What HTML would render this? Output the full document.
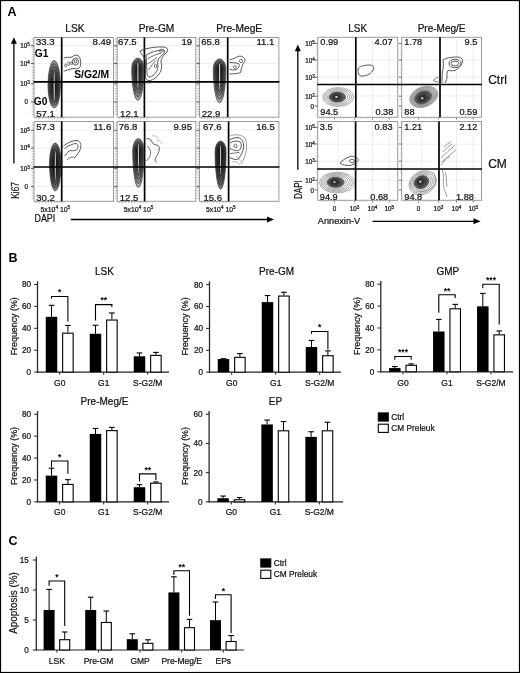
<!DOCTYPE html>
<html><head><meta charset="utf-8"><title>Figure</title>
<style>
html,body{margin:0;padding:0;background:#fff;}
body{width:520px;height:673px;overflow:hidden;}
svg{display:block;font-family:"Liberation Sans", Arial, Helvetica, sans-serif;}
text{stroke:#111;stroke-width:0.22px;}
text[font-weight=bold]{stroke:none;}
</style></head><body>
<svg width="520" height="673" viewBox="0 0 520 673">
<rect x="0" y="0" width="520" height="673" fill="#fff"/>
<text x="7.60" y="15.60" font-size="12.5" text-anchor="start" font-weight="bold">A</text>
<text x="8.40" y="262.00" font-size="12.5" text-anchor="start" font-weight="bold">B</text>
<text x="8.40" y="545.20" font-size="12.5" text-anchor="start" font-weight="bold">C</text>
<text x="74.95" y="31.60" font-size="10.2" text-anchor="middle" fill="#111">LSK</text>
<text x="156.50" y="31.60" font-size="10.2" text-anchor="middle" fill="#111">Pre-GM</text>
<text x="239.20" y="31.60" font-size="10.2" text-anchor="middle" fill="#111">Pre-MegE</text>
<rect x="34.00" y="37.50" width="79.50" height="79.70" fill="#fff" stroke="#9a9a9a" stroke-width="1"/>
<rect x="117.20" y="37.50" width="78.60" height="79.70" fill="#fff" stroke="#9a9a9a" stroke-width="1"/>
<rect x="199.50" y="37.50" width="79.40" height="79.70" fill="#fff" stroke="#9a9a9a" stroke-width="1"/>
<rect x="34.00" y="121.50" width="79.50" height="79.80" fill="#fff" stroke="#9a9a9a" stroke-width="1"/>
<rect x="117.20" y="121.50" width="78.60" height="79.80" fill="#fff" stroke="#9a9a9a" stroke-width="1"/>
<rect x="199.50" y="121.50" width="79.40" height="79.80" fill="#fff" stroke="#9a9a9a" stroke-width="1"/>
<line x1="34.50" y1="45.50" x2="113.00" y2="45.50" stroke="#e3e3e3" stroke-width="0.6"/>
<line x1="34.50" y1="63.50" x2="113.00" y2="63.50" stroke="#e3e3e3" stroke-width="0.6"/>
<line x1="34.50" y1="101.50" x2="113.00" y2="101.50" stroke="#e3e3e3" stroke-width="0.6"/>
<line x1="117.70" y1="45.50" x2="195.30" y2="45.50" stroke="#e3e3e3" stroke-width="0.6"/>
<line x1="117.70" y1="63.50" x2="195.30" y2="63.50" stroke="#e3e3e3" stroke-width="0.6"/>
<line x1="117.70" y1="101.50" x2="195.30" y2="101.50" stroke="#e3e3e3" stroke-width="0.6"/>
<line x1="200.00" y1="45.50" x2="278.40" y2="45.50" stroke="#e3e3e3" stroke-width="0.6"/>
<line x1="200.00" y1="63.50" x2="278.40" y2="63.50" stroke="#e3e3e3" stroke-width="0.6"/>
<line x1="200.00" y1="101.50" x2="278.40" y2="101.50" stroke="#e3e3e3" stroke-width="0.6"/>
<line x1="34.50" y1="130.00" x2="113.00" y2="130.00" stroke="#e3e3e3" stroke-width="0.6"/>
<line x1="34.50" y1="148.00" x2="113.00" y2="148.00" stroke="#e3e3e3" stroke-width="0.6"/>
<line x1="34.50" y1="186.50" x2="113.00" y2="186.50" stroke="#e3e3e3" stroke-width="0.6"/>
<line x1="117.70" y1="130.00" x2="195.30" y2="130.00" stroke="#e3e3e3" stroke-width="0.6"/>
<line x1="117.70" y1="148.00" x2="195.30" y2="148.00" stroke="#e3e3e3" stroke-width="0.6"/>
<line x1="117.70" y1="186.50" x2="195.30" y2="186.50" stroke="#e3e3e3" stroke-width="0.6"/>
<line x1="200.00" y1="130.00" x2="278.40" y2="130.00" stroke="#e3e3e3" stroke-width="0.6"/>
<line x1="200.00" y1="148.00" x2="278.40" y2="148.00" stroke="#e3e3e3" stroke-width="0.6"/>
<line x1="200.00" y1="186.50" x2="278.40" y2="186.50" stroke="#e3e3e3" stroke-width="0.6"/>
<line x1="31.70" y1="39.00" x2="33.70" y2="39.00" stroke="#8c8c8c" stroke-width="0.6"/>
<line x1="31.70" y1="41.60" x2="33.70" y2="41.60" stroke="#8c8c8c" stroke-width="0.6"/>
<line x1="31.70" y1="44.20" x2="33.70" y2="44.20" stroke="#8c8c8c" stroke-width="0.6"/>
<line x1="31.70" y1="46.80" x2="33.70" y2="46.80" stroke="#8c8c8c" stroke-width="0.6"/>
<line x1="31.70" y1="49.40" x2="33.70" y2="49.40" stroke="#8c8c8c" stroke-width="0.6"/>
<line x1="31.70" y1="52.00" x2="33.70" y2="52.00" stroke="#8c8c8c" stroke-width="0.6"/>
<line x1="31.70" y1="54.60" x2="33.70" y2="54.60" stroke="#8c8c8c" stroke-width="0.6"/>
<line x1="31.70" y1="57.20" x2="33.70" y2="57.20" stroke="#8c8c8c" stroke-width="0.6"/>
<line x1="31.70" y1="59.80" x2="33.70" y2="59.80" stroke="#8c8c8c" stroke-width="0.6"/>
<line x1="31.70" y1="62.40" x2="33.70" y2="62.40" stroke="#8c8c8c" stroke-width="0.6"/>
<line x1="31.70" y1="65.00" x2="33.70" y2="65.00" stroke="#8c8c8c" stroke-width="0.6"/>
<line x1="31.70" y1="67.60" x2="33.70" y2="67.60" stroke="#8c8c8c" stroke-width="0.6"/>
<line x1="31.70" y1="70.20" x2="33.70" y2="70.20" stroke="#8c8c8c" stroke-width="0.6"/>
<line x1="31.70" y1="72.80" x2="33.70" y2="72.80" stroke="#8c8c8c" stroke-width="0.6"/>
<line x1="31.70" y1="75.40" x2="33.70" y2="75.40" stroke="#8c8c8c" stroke-width="0.6"/>
<line x1="31.70" y1="78.00" x2="33.70" y2="78.00" stroke="#8c8c8c" stroke-width="0.6"/>
<line x1="31.70" y1="80.60" x2="33.70" y2="80.60" stroke="#8c8c8c" stroke-width="0.6"/>
<line x1="31.70" y1="83.20" x2="33.70" y2="83.20" stroke="#8c8c8c" stroke-width="0.6"/>
<line x1="31.70" y1="85.80" x2="33.70" y2="85.80" stroke="#8c8c8c" stroke-width="0.6"/>
<line x1="31.70" y1="88.40" x2="33.70" y2="88.40" stroke="#8c8c8c" stroke-width="0.6"/>
<line x1="31.70" y1="91.00" x2="33.70" y2="91.00" stroke="#8c8c8c" stroke-width="0.6"/>
<line x1="31.70" y1="93.60" x2="33.70" y2="93.60" stroke="#8c8c8c" stroke-width="0.6"/>
<line x1="31.70" y1="96.20" x2="33.70" y2="96.20" stroke="#8c8c8c" stroke-width="0.6"/>
<line x1="31.70" y1="98.80" x2="33.70" y2="98.80" stroke="#8c8c8c" stroke-width="0.6"/>
<line x1="31.70" y1="101.40" x2="33.70" y2="101.40" stroke="#8c8c8c" stroke-width="0.6"/>
<line x1="31.70" y1="104.00" x2="33.70" y2="104.00" stroke="#8c8c8c" stroke-width="0.6"/>
<line x1="31.70" y1="106.60" x2="33.70" y2="106.60" stroke="#8c8c8c" stroke-width="0.6"/>
<line x1="31.70" y1="109.20" x2="33.70" y2="109.20" stroke="#8c8c8c" stroke-width="0.6"/>
<line x1="31.70" y1="111.80" x2="33.70" y2="111.80" stroke="#8c8c8c" stroke-width="0.6"/>
<line x1="31.70" y1="114.40" x2="33.70" y2="114.40" stroke="#8c8c8c" stroke-width="0.6"/>
<line x1="30.90" y1="45.80" x2="34.00" y2="45.80" stroke="#555" stroke-width="0.9"/>
<line x1="30.90" y1="63.50" x2="34.00" y2="63.50" stroke="#555" stroke-width="0.9"/>
<line x1="30.90" y1="83.80" x2="34.00" y2="83.80" stroke="#555" stroke-width="0.9"/>
<line x1="30.90" y1="102.00" x2="34.00" y2="102.00" stroke="#555" stroke-width="0.9"/>
<line x1="36.00" y1="117.50" x2="36.00" y2="119.10" stroke="#888" stroke-width="0.6"/>
<line x1="39.10" y1="117.50" x2="39.10" y2="119.10" stroke="#888" stroke-width="0.6"/>
<line x1="42.20" y1="117.50" x2="42.20" y2="119.10" stroke="#888" stroke-width="0.6"/>
<line x1="45.30" y1="117.50" x2="45.30" y2="119.10" stroke="#888" stroke-width="0.6"/>
<line x1="48.40" y1="117.50" x2="48.40" y2="119.10" stroke="#888" stroke-width="0.6"/>
<line x1="51.50" y1="117.50" x2="51.50" y2="119.10" stroke="#888" stroke-width="0.6"/>
<line x1="54.60" y1="117.50" x2="54.60" y2="119.10" stroke="#888" stroke-width="0.6"/>
<line x1="57.70" y1="117.50" x2="57.70" y2="119.10" stroke="#888" stroke-width="0.6"/>
<line x1="60.80" y1="117.50" x2="60.80" y2="119.10" stroke="#888" stroke-width="0.6"/>
<line x1="63.90" y1="117.50" x2="63.90" y2="119.10" stroke="#888" stroke-width="0.6"/>
<line x1="114.90" y1="39.00" x2="116.90" y2="39.00" stroke="#8c8c8c" stroke-width="0.6"/>
<line x1="114.90" y1="41.60" x2="116.90" y2="41.60" stroke="#8c8c8c" stroke-width="0.6"/>
<line x1="114.90" y1="44.20" x2="116.90" y2="44.20" stroke="#8c8c8c" stroke-width="0.6"/>
<line x1="114.90" y1="46.80" x2="116.90" y2="46.80" stroke="#8c8c8c" stroke-width="0.6"/>
<line x1="114.90" y1="49.40" x2="116.90" y2="49.40" stroke="#8c8c8c" stroke-width="0.6"/>
<line x1="114.90" y1="52.00" x2="116.90" y2="52.00" stroke="#8c8c8c" stroke-width="0.6"/>
<line x1="114.90" y1="54.60" x2="116.90" y2="54.60" stroke="#8c8c8c" stroke-width="0.6"/>
<line x1="114.90" y1="57.20" x2="116.90" y2="57.20" stroke="#8c8c8c" stroke-width="0.6"/>
<line x1="114.90" y1="59.80" x2="116.90" y2="59.80" stroke="#8c8c8c" stroke-width="0.6"/>
<line x1="114.90" y1="62.40" x2="116.90" y2="62.40" stroke="#8c8c8c" stroke-width="0.6"/>
<line x1="114.90" y1="65.00" x2="116.90" y2="65.00" stroke="#8c8c8c" stroke-width="0.6"/>
<line x1="114.90" y1="67.60" x2="116.90" y2="67.60" stroke="#8c8c8c" stroke-width="0.6"/>
<line x1="114.90" y1="70.20" x2="116.90" y2="70.20" stroke="#8c8c8c" stroke-width="0.6"/>
<line x1="114.90" y1="72.80" x2="116.90" y2="72.80" stroke="#8c8c8c" stroke-width="0.6"/>
<line x1="114.90" y1="75.40" x2="116.90" y2="75.40" stroke="#8c8c8c" stroke-width="0.6"/>
<line x1="114.90" y1="78.00" x2="116.90" y2="78.00" stroke="#8c8c8c" stroke-width="0.6"/>
<line x1="114.90" y1="80.60" x2="116.90" y2="80.60" stroke="#8c8c8c" stroke-width="0.6"/>
<line x1="114.90" y1="83.20" x2="116.90" y2="83.20" stroke="#8c8c8c" stroke-width="0.6"/>
<line x1="114.90" y1="85.80" x2="116.90" y2="85.80" stroke="#8c8c8c" stroke-width="0.6"/>
<line x1="114.90" y1="88.40" x2="116.90" y2="88.40" stroke="#8c8c8c" stroke-width="0.6"/>
<line x1="114.90" y1="91.00" x2="116.90" y2="91.00" stroke="#8c8c8c" stroke-width="0.6"/>
<line x1="114.90" y1="93.60" x2="116.90" y2="93.60" stroke="#8c8c8c" stroke-width="0.6"/>
<line x1="114.90" y1="96.20" x2="116.90" y2="96.20" stroke="#8c8c8c" stroke-width="0.6"/>
<line x1="114.90" y1="98.80" x2="116.90" y2="98.80" stroke="#8c8c8c" stroke-width="0.6"/>
<line x1="114.90" y1="101.40" x2="116.90" y2="101.40" stroke="#8c8c8c" stroke-width="0.6"/>
<line x1="114.90" y1="104.00" x2="116.90" y2="104.00" stroke="#8c8c8c" stroke-width="0.6"/>
<line x1="114.90" y1="106.60" x2="116.90" y2="106.60" stroke="#8c8c8c" stroke-width="0.6"/>
<line x1="114.90" y1="109.20" x2="116.90" y2="109.20" stroke="#8c8c8c" stroke-width="0.6"/>
<line x1="114.90" y1="111.80" x2="116.90" y2="111.80" stroke="#8c8c8c" stroke-width="0.6"/>
<line x1="114.90" y1="114.40" x2="116.90" y2="114.40" stroke="#8c8c8c" stroke-width="0.6"/>
<line x1="114.10" y1="45.80" x2="117.20" y2="45.80" stroke="#555" stroke-width="0.9"/>
<line x1="114.10" y1="63.50" x2="117.20" y2="63.50" stroke="#555" stroke-width="0.9"/>
<line x1="114.10" y1="83.80" x2="117.20" y2="83.80" stroke="#555" stroke-width="0.9"/>
<line x1="114.10" y1="102.00" x2="117.20" y2="102.00" stroke="#555" stroke-width="0.9"/>
<line x1="119.20" y1="117.50" x2="119.20" y2="119.10" stroke="#888" stroke-width="0.6"/>
<line x1="122.30" y1="117.50" x2="122.30" y2="119.10" stroke="#888" stroke-width="0.6"/>
<line x1="125.40" y1="117.50" x2="125.40" y2="119.10" stroke="#888" stroke-width="0.6"/>
<line x1="128.50" y1="117.50" x2="128.50" y2="119.10" stroke="#888" stroke-width="0.6"/>
<line x1="131.60" y1="117.50" x2="131.60" y2="119.10" stroke="#888" stroke-width="0.6"/>
<line x1="134.70" y1="117.50" x2="134.70" y2="119.10" stroke="#888" stroke-width="0.6"/>
<line x1="137.80" y1="117.50" x2="137.80" y2="119.10" stroke="#888" stroke-width="0.6"/>
<line x1="140.90" y1="117.50" x2="140.90" y2="119.10" stroke="#888" stroke-width="0.6"/>
<line x1="144.00" y1="117.50" x2="144.00" y2="119.10" stroke="#888" stroke-width="0.6"/>
<line x1="147.10" y1="117.50" x2="147.10" y2="119.10" stroke="#888" stroke-width="0.6"/>
<line x1="197.20" y1="39.00" x2="199.20" y2="39.00" stroke="#8c8c8c" stroke-width="0.6"/>
<line x1="197.20" y1="41.60" x2="199.20" y2="41.60" stroke="#8c8c8c" stroke-width="0.6"/>
<line x1="197.20" y1="44.20" x2="199.20" y2="44.20" stroke="#8c8c8c" stroke-width="0.6"/>
<line x1="197.20" y1="46.80" x2="199.20" y2="46.80" stroke="#8c8c8c" stroke-width="0.6"/>
<line x1="197.20" y1="49.40" x2="199.20" y2="49.40" stroke="#8c8c8c" stroke-width="0.6"/>
<line x1="197.20" y1="52.00" x2="199.20" y2="52.00" stroke="#8c8c8c" stroke-width="0.6"/>
<line x1="197.20" y1="54.60" x2="199.20" y2="54.60" stroke="#8c8c8c" stroke-width="0.6"/>
<line x1="197.20" y1="57.20" x2="199.20" y2="57.20" stroke="#8c8c8c" stroke-width="0.6"/>
<line x1="197.20" y1="59.80" x2="199.20" y2="59.80" stroke="#8c8c8c" stroke-width="0.6"/>
<line x1="197.20" y1="62.40" x2="199.20" y2="62.40" stroke="#8c8c8c" stroke-width="0.6"/>
<line x1="197.20" y1="65.00" x2="199.20" y2="65.00" stroke="#8c8c8c" stroke-width="0.6"/>
<line x1="197.20" y1="67.60" x2="199.20" y2="67.60" stroke="#8c8c8c" stroke-width="0.6"/>
<line x1="197.20" y1="70.20" x2="199.20" y2="70.20" stroke="#8c8c8c" stroke-width="0.6"/>
<line x1="197.20" y1="72.80" x2="199.20" y2="72.80" stroke="#8c8c8c" stroke-width="0.6"/>
<line x1="197.20" y1="75.40" x2="199.20" y2="75.40" stroke="#8c8c8c" stroke-width="0.6"/>
<line x1="197.20" y1="78.00" x2="199.20" y2="78.00" stroke="#8c8c8c" stroke-width="0.6"/>
<line x1="197.20" y1="80.60" x2="199.20" y2="80.60" stroke="#8c8c8c" stroke-width="0.6"/>
<line x1="197.20" y1="83.20" x2="199.20" y2="83.20" stroke="#8c8c8c" stroke-width="0.6"/>
<line x1="197.20" y1="85.80" x2="199.20" y2="85.80" stroke="#8c8c8c" stroke-width="0.6"/>
<line x1="197.20" y1="88.40" x2="199.20" y2="88.40" stroke="#8c8c8c" stroke-width="0.6"/>
<line x1="197.20" y1="91.00" x2="199.20" y2="91.00" stroke="#8c8c8c" stroke-width="0.6"/>
<line x1="197.20" y1="93.60" x2="199.20" y2="93.60" stroke="#8c8c8c" stroke-width="0.6"/>
<line x1="197.20" y1="96.20" x2="199.20" y2="96.20" stroke="#8c8c8c" stroke-width="0.6"/>
<line x1="197.20" y1="98.80" x2="199.20" y2="98.80" stroke="#8c8c8c" stroke-width="0.6"/>
<line x1="197.20" y1="101.40" x2="199.20" y2="101.40" stroke="#8c8c8c" stroke-width="0.6"/>
<line x1="197.20" y1="104.00" x2="199.20" y2="104.00" stroke="#8c8c8c" stroke-width="0.6"/>
<line x1="197.20" y1="106.60" x2="199.20" y2="106.60" stroke="#8c8c8c" stroke-width="0.6"/>
<line x1="197.20" y1="109.20" x2="199.20" y2="109.20" stroke="#8c8c8c" stroke-width="0.6"/>
<line x1="197.20" y1="111.80" x2="199.20" y2="111.80" stroke="#8c8c8c" stroke-width="0.6"/>
<line x1="197.20" y1="114.40" x2="199.20" y2="114.40" stroke="#8c8c8c" stroke-width="0.6"/>
<line x1="196.40" y1="45.80" x2="199.50" y2="45.80" stroke="#555" stroke-width="0.9"/>
<line x1="196.40" y1="63.50" x2="199.50" y2="63.50" stroke="#555" stroke-width="0.9"/>
<line x1="196.40" y1="83.80" x2="199.50" y2="83.80" stroke="#555" stroke-width="0.9"/>
<line x1="196.40" y1="102.00" x2="199.50" y2="102.00" stroke="#555" stroke-width="0.9"/>
<line x1="201.50" y1="117.50" x2="201.50" y2="119.10" stroke="#888" stroke-width="0.6"/>
<line x1="204.60" y1="117.50" x2="204.60" y2="119.10" stroke="#888" stroke-width="0.6"/>
<line x1="207.70" y1="117.50" x2="207.70" y2="119.10" stroke="#888" stroke-width="0.6"/>
<line x1="210.80" y1="117.50" x2="210.80" y2="119.10" stroke="#888" stroke-width="0.6"/>
<line x1="213.90" y1="117.50" x2="213.90" y2="119.10" stroke="#888" stroke-width="0.6"/>
<line x1="217.00" y1="117.50" x2="217.00" y2="119.10" stroke="#888" stroke-width="0.6"/>
<line x1="220.10" y1="117.50" x2="220.10" y2="119.10" stroke="#888" stroke-width="0.6"/>
<line x1="223.20" y1="117.50" x2="223.20" y2="119.10" stroke="#888" stroke-width="0.6"/>
<line x1="226.30" y1="117.50" x2="226.30" y2="119.10" stroke="#888" stroke-width="0.6"/>
<line x1="229.40" y1="117.50" x2="229.40" y2="119.10" stroke="#888" stroke-width="0.6"/>
<line x1="31.70" y1="123.00" x2="33.70" y2="123.00" stroke="#8c8c8c" stroke-width="0.6"/>
<line x1="31.70" y1="125.60" x2="33.70" y2="125.60" stroke="#8c8c8c" stroke-width="0.6"/>
<line x1="31.70" y1="128.20" x2="33.70" y2="128.20" stroke="#8c8c8c" stroke-width="0.6"/>
<line x1="31.70" y1="130.80" x2="33.70" y2="130.80" stroke="#8c8c8c" stroke-width="0.6"/>
<line x1="31.70" y1="133.40" x2="33.70" y2="133.40" stroke="#8c8c8c" stroke-width="0.6"/>
<line x1="31.70" y1="136.00" x2="33.70" y2="136.00" stroke="#8c8c8c" stroke-width="0.6"/>
<line x1="31.70" y1="138.60" x2="33.70" y2="138.60" stroke="#8c8c8c" stroke-width="0.6"/>
<line x1="31.70" y1="141.20" x2="33.70" y2="141.20" stroke="#8c8c8c" stroke-width="0.6"/>
<line x1="31.70" y1="143.80" x2="33.70" y2="143.80" stroke="#8c8c8c" stroke-width="0.6"/>
<line x1="31.70" y1="146.40" x2="33.70" y2="146.40" stroke="#8c8c8c" stroke-width="0.6"/>
<line x1="31.70" y1="149.00" x2="33.70" y2="149.00" stroke="#8c8c8c" stroke-width="0.6"/>
<line x1="31.70" y1="151.60" x2="33.70" y2="151.60" stroke="#8c8c8c" stroke-width="0.6"/>
<line x1="31.70" y1="154.20" x2="33.70" y2="154.20" stroke="#8c8c8c" stroke-width="0.6"/>
<line x1="31.70" y1="156.80" x2="33.70" y2="156.80" stroke="#8c8c8c" stroke-width="0.6"/>
<line x1="31.70" y1="159.40" x2="33.70" y2="159.40" stroke="#8c8c8c" stroke-width="0.6"/>
<line x1="31.70" y1="162.00" x2="33.70" y2="162.00" stroke="#8c8c8c" stroke-width="0.6"/>
<line x1="31.70" y1="164.60" x2="33.70" y2="164.60" stroke="#8c8c8c" stroke-width="0.6"/>
<line x1="31.70" y1="167.20" x2="33.70" y2="167.20" stroke="#8c8c8c" stroke-width="0.6"/>
<line x1="31.70" y1="169.80" x2="33.70" y2="169.80" stroke="#8c8c8c" stroke-width="0.6"/>
<line x1="31.70" y1="172.40" x2="33.70" y2="172.40" stroke="#8c8c8c" stroke-width="0.6"/>
<line x1="31.70" y1="175.00" x2="33.70" y2="175.00" stroke="#8c8c8c" stroke-width="0.6"/>
<line x1="31.70" y1="177.60" x2="33.70" y2="177.60" stroke="#8c8c8c" stroke-width="0.6"/>
<line x1="31.70" y1="180.20" x2="33.70" y2="180.20" stroke="#8c8c8c" stroke-width="0.6"/>
<line x1="31.70" y1="182.80" x2="33.70" y2="182.80" stroke="#8c8c8c" stroke-width="0.6"/>
<line x1="31.70" y1="185.40" x2="33.70" y2="185.40" stroke="#8c8c8c" stroke-width="0.6"/>
<line x1="31.70" y1="188.00" x2="33.70" y2="188.00" stroke="#8c8c8c" stroke-width="0.6"/>
<line x1="31.70" y1="190.60" x2="33.70" y2="190.60" stroke="#8c8c8c" stroke-width="0.6"/>
<line x1="31.70" y1="193.20" x2="33.70" y2="193.20" stroke="#8c8c8c" stroke-width="0.6"/>
<line x1="31.70" y1="195.80" x2="33.70" y2="195.80" stroke="#8c8c8c" stroke-width="0.6"/>
<line x1="31.70" y1="198.40" x2="33.70" y2="198.40" stroke="#8c8c8c" stroke-width="0.6"/>
<line x1="30.90" y1="130.40" x2="34.00" y2="130.40" stroke="#555" stroke-width="0.9"/>
<line x1="30.90" y1="148.10" x2="34.00" y2="148.10" stroke="#555" stroke-width="0.9"/>
<line x1="30.90" y1="168.40" x2="34.00" y2="168.40" stroke="#555" stroke-width="0.9"/>
<line x1="30.90" y1="186.60" x2="34.00" y2="186.60" stroke="#555" stroke-width="0.9"/>
<line x1="36.00" y1="201.60" x2="36.00" y2="203.20" stroke="#888" stroke-width="0.6"/>
<line x1="39.10" y1="201.60" x2="39.10" y2="203.20" stroke="#888" stroke-width="0.6"/>
<line x1="42.20" y1="201.60" x2="42.20" y2="203.20" stroke="#888" stroke-width="0.6"/>
<line x1="45.30" y1="201.60" x2="45.30" y2="203.20" stroke="#888" stroke-width="0.6"/>
<line x1="48.40" y1="201.60" x2="48.40" y2="203.20" stroke="#888" stroke-width="0.6"/>
<line x1="51.50" y1="201.60" x2="51.50" y2="203.20" stroke="#888" stroke-width="0.6"/>
<line x1="54.60" y1="201.60" x2="54.60" y2="203.20" stroke="#888" stroke-width="0.6"/>
<line x1="57.70" y1="201.60" x2="57.70" y2="203.20" stroke="#888" stroke-width="0.6"/>
<line x1="60.80" y1="201.60" x2="60.80" y2="203.20" stroke="#888" stroke-width="0.6"/>
<line x1="63.90" y1="201.60" x2="63.90" y2="203.20" stroke="#888" stroke-width="0.6"/>
<line x1="114.90" y1="123.00" x2="116.90" y2="123.00" stroke="#8c8c8c" stroke-width="0.6"/>
<line x1="114.90" y1="125.60" x2="116.90" y2="125.60" stroke="#8c8c8c" stroke-width="0.6"/>
<line x1="114.90" y1="128.20" x2="116.90" y2="128.20" stroke="#8c8c8c" stroke-width="0.6"/>
<line x1="114.90" y1="130.80" x2="116.90" y2="130.80" stroke="#8c8c8c" stroke-width="0.6"/>
<line x1="114.90" y1="133.40" x2="116.90" y2="133.40" stroke="#8c8c8c" stroke-width="0.6"/>
<line x1="114.90" y1="136.00" x2="116.90" y2="136.00" stroke="#8c8c8c" stroke-width="0.6"/>
<line x1="114.90" y1="138.60" x2="116.90" y2="138.60" stroke="#8c8c8c" stroke-width="0.6"/>
<line x1="114.90" y1="141.20" x2="116.90" y2="141.20" stroke="#8c8c8c" stroke-width="0.6"/>
<line x1="114.90" y1="143.80" x2="116.90" y2="143.80" stroke="#8c8c8c" stroke-width="0.6"/>
<line x1="114.90" y1="146.40" x2="116.90" y2="146.40" stroke="#8c8c8c" stroke-width="0.6"/>
<line x1="114.90" y1="149.00" x2="116.90" y2="149.00" stroke="#8c8c8c" stroke-width="0.6"/>
<line x1="114.90" y1="151.60" x2="116.90" y2="151.60" stroke="#8c8c8c" stroke-width="0.6"/>
<line x1="114.90" y1="154.20" x2="116.90" y2="154.20" stroke="#8c8c8c" stroke-width="0.6"/>
<line x1="114.90" y1="156.80" x2="116.90" y2="156.80" stroke="#8c8c8c" stroke-width="0.6"/>
<line x1="114.90" y1="159.40" x2="116.90" y2="159.40" stroke="#8c8c8c" stroke-width="0.6"/>
<line x1="114.90" y1="162.00" x2="116.90" y2="162.00" stroke="#8c8c8c" stroke-width="0.6"/>
<line x1="114.90" y1="164.60" x2="116.90" y2="164.60" stroke="#8c8c8c" stroke-width="0.6"/>
<line x1="114.90" y1="167.20" x2="116.90" y2="167.20" stroke="#8c8c8c" stroke-width="0.6"/>
<line x1="114.90" y1="169.80" x2="116.90" y2="169.80" stroke="#8c8c8c" stroke-width="0.6"/>
<line x1="114.90" y1="172.40" x2="116.90" y2="172.40" stroke="#8c8c8c" stroke-width="0.6"/>
<line x1="114.90" y1="175.00" x2="116.90" y2="175.00" stroke="#8c8c8c" stroke-width="0.6"/>
<line x1="114.90" y1="177.60" x2="116.90" y2="177.60" stroke="#8c8c8c" stroke-width="0.6"/>
<line x1="114.90" y1="180.20" x2="116.90" y2="180.20" stroke="#8c8c8c" stroke-width="0.6"/>
<line x1="114.90" y1="182.80" x2="116.90" y2="182.80" stroke="#8c8c8c" stroke-width="0.6"/>
<line x1="114.90" y1="185.40" x2="116.90" y2="185.40" stroke="#8c8c8c" stroke-width="0.6"/>
<line x1="114.90" y1="188.00" x2="116.90" y2="188.00" stroke="#8c8c8c" stroke-width="0.6"/>
<line x1="114.90" y1="190.60" x2="116.90" y2="190.60" stroke="#8c8c8c" stroke-width="0.6"/>
<line x1="114.90" y1="193.20" x2="116.90" y2="193.20" stroke="#8c8c8c" stroke-width="0.6"/>
<line x1="114.90" y1="195.80" x2="116.90" y2="195.80" stroke="#8c8c8c" stroke-width="0.6"/>
<line x1="114.90" y1="198.40" x2="116.90" y2="198.40" stroke="#8c8c8c" stroke-width="0.6"/>
<line x1="114.10" y1="130.40" x2="117.20" y2="130.40" stroke="#555" stroke-width="0.9"/>
<line x1="114.10" y1="148.10" x2="117.20" y2="148.10" stroke="#555" stroke-width="0.9"/>
<line x1="114.10" y1="168.40" x2="117.20" y2="168.40" stroke="#555" stroke-width="0.9"/>
<line x1="114.10" y1="186.60" x2="117.20" y2="186.60" stroke="#555" stroke-width="0.9"/>
<line x1="119.20" y1="201.60" x2="119.20" y2="203.20" stroke="#888" stroke-width="0.6"/>
<line x1="122.30" y1="201.60" x2="122.30" y2="203.20" stroke="#888" stroke-width="0.6"/>
<line x1="125.40" y1="201.60" x2="125.40" y2="203.20" stroke="#888" stroke-width="0.6"/>
<line x1="128.50" y1="201.60" x2="128.50" y2="203.20" stroke="#888" stroke-width="0.6"/>
<line x1="131.60" y1="201.60" x2="131.60" y2="203.20" stroke="#888" stroke-width="0.6"/>
<line x1="134.70" y1="201.60" x2="134.70" y2="203.20" stroke="#888" stroke-width="0.6"/>
<line x1="137.80" y1="201.60" x2="137.80" y2="203.20" stroke="#888" stroke-width="0.6"/>
<line x1="140.90" y1="201.60" x2="140.90" y2="203.20" stroke="#888" stroke-width="0.6"/>
<line x1="144.00" y1="201.60" x2="144.00" y2="203.20" stroke="#888" stroke-width="0.6"/>
<line x1="147.10" y1="201.60" x2="147.10" y2="203.20" stroke="#888" stroke-width="0.6"/>
<line x1="197.20" y1="123.00" x2="199.20" y2="123.00" stroke="#8c8c8c" stroke-width="0.6"/>
<line x1="197.20" y1="125.60" x2="199.20" y2="125.60" stroke="#8c8c8c" stroke-width="0.6"/>
<line x1="197.20" y1="128.20" x2="199.20" y2="128.20" stroke="#8c8c8c" stroke-width="0.6"/>
<line x1="197.20" y1="130.80" x2="199.20" y2="130.80" stroke="#8c8c8c" stroke-width="0.6"/>
<line x1="197.20" y1="133.40" x2="199.20" y2="133.40" stroke="#8c8c8c" stroke-width="0.6"/>
<line x1="197.20" y1="136.00" x2="199.20" y2="136.00" stroke="#8c8c8c" stroke-width="0.6"/>
<line x1="197.20" y1="138.60" x2="199.20" y2="138.60" stroke="#8c8c8c" stroke-width="0.6"/>
<line x1="197.20" y1="141.20" x2="199.20" y2="141.20" stroke="#8c8c8c" stroke-width="0.6"/>
<line x1="197.20" y1="143.80" x2="199.20" y2="143.80" stroke="#8c8c8c" stroke-width="0.6"/>
<line x1="197.20" y1="146.40" x2="199.20" y2="146.40" stroke="#8c8c8c" stroke-width="0.6"/>
<line x1="197.20" y1="149.00" x2="199.20" y2="149.00" stroke="#8c8c8c" stroke-width="0.6"/>
<line x1="197.20" y1="151.60" x2="199.20" y2="151.60" stroke="#8c8c8c" stroke-width="0.6"/>
<line x1="197.20" y1="154.20" x2="199.20" y2="154.20" stroke="#8c8c8c" stroke-width="0.6"/>
<line x1="197.20" y1="156.80" x2="199.20" y2="156.80" stroke="#8c8c8c" stroke-width="0.6"/>
<line x1="197.20" y1="159.40" x2="199.20" y2="159.40" stroke="#8c8c8c" stroke-width="0.6"/>
<line x1="197.20" y1="162.00" x2="199.20" y2="162.00" stroke="#8c8c8c" stroke-width="0.6"/>
<line x1="197.20" y1="164.60" x2="199.20" y2="164.60" stroke="#8c8c8c" stroke-width="0.6"/>
<line x1="197.20" y1="167.20" x2="199.20" y2="167.20" stroke="#8c8c8c" stroke-width="0.6"/>
<line x1="197.20" y1="169.80" x2="199.20" y2="169.80" stroke="#8c8c8c" stroke-width="0.6"/>
<line x1="197.20" y1="172.40" x2="199.20" y2="172.40" stroke="#8c8c8c" stroke-width="0.6"/>
<line x1="197.20" y1="175.00" x2="199.20" y2="175.00" stroke="#8c8c8c" stroke-width="0.6"/>
<line x1="197.20" y1="177.60" x2="199.20" y2="177.60" stroke="#8c8c8c" stroke-width="0.6"/>
<line x1="197.20" y1="180.20" x2="199.20" y2="180.20" stroke="#8c8c8c" stroke-width="0.6"/>
<line x1="197.20" y1="182.80" x2="199.20" y2="182.80" stroke="#8c8c8c" stroke-width="0.6"/>
<line x1="197.20" y1="185.40" x2="199.20" y2="185.40" stroke="#8c8c8c" stroke-width="0.6"/>
<line x1="197.20" y1="188.00" x2="199.20" y2="188.00" stroke="#8c8c8c" stroke-width="0.6"/>
<line x1="197.20" y1="190.60" x2="199.20" y2="190.60" stroke="#8c8c8c" stroke-width="0.6"/>
<line x1="197.20" y1="193.20" x2="199.20" y2="193.20" stroke="#8c8c8c" stroke-width="0.6"/>
<line x1="197.20" y1="195.80" x2="199.20" y2="195.80" stroke="#8c8c8c" stroke-width="0.6"/>
<line x1="197.20" y1="198.40" x2="199.20" y2="198.40" stroke="#8c8c8c" stroke-width="0.6"/>
<line x1="196.40" y1="130.40" x2="199.50" y2="130.40" stroke="#555" stroke-width="0.9"/>
<line x1="196.40" y1="148.10" x2="199.50" y2="148.10" stroke="#555" stroke-width="0.9"/>
<line x1="196.40" y1="168.40" x2="199.50" y2="168.40" stroke="#555" stroke-width="0.9"/>
<line x1="196.40" y1="186.60" x2="199.50" y2="186.60" stroke="#555" stroke-width="0.9"/>
<line x1="201.50" y1="201.60" x2="201.50" y2="203.20" stroke="#888" stroke-width="0.6"/>
<line x1="204.60" y1="201.60" x2="204.60" y2="203.20" stroke="#888" stroke-width="0.6"/>
<line x1="207.70" y1="201.60" x2="207.70" y2="203.20" stroke="#888" stroke-width="0.6"/>
<line x1="210.80" y1="201.60" x2="210.80" y2="203.20" stroke="#888" stroke-width="0.6"/>
<line x1="213.90" y1="201.60" x2="213.90" y2="203.20" stroke="#888" stroke-width="0.6"/>
<line x1="217.00" y1="201.60" x2="217.00" y2="203.20" stroke="#888" stroke-width="0.6"/>
<line x1="220.10" y1="201.60" x2="220.10" y2="203.20" stroke="#888" stroke-width="0.6"/>
<line x1="223.20" y1="201.60" x2="223.20" y2="203.20" stroke="#888" stroke-width="0.6"/>
<line x1="226.30" y1="201.60" x2="226.30" y2="203.20" stroke="#888" stroke-width="0.6"/>
<line x1="229.40" y1="201.60" x2="229.40" y2="203.20" stroke="#888" stroke-width="0.6"/>
<line x1="61.70" y1="37.50" x2="61.70" y2="117.20" stroke="#000" stroke-width="1.7"/>
<line x1="144.40" y1="37.50" x2="144.40" y2="117.20" stroke="#000" stroke-width="1.7"/>
<line x1="227.70" y1="37.50" x2="227.70" y2="117.20" stroke="#000" stroke-width="1.7"/>
<line x1="61.70" y1="121.50" x2="61.70" y2="201.30" stroke="#000" stroke-width="1.7"/>
<line x1="144.60" y1="121.50" x2="144.60" y2="201.30" stroke="#000" stroke-width="1.7"/>
<line x1="228.60" y1="121.50" x2="228.60" y2="201.30" stroke="#000" stroke-width="1.7"/>
<path d="M48.00,86.00 A6.20,25.50 0 0 1 60.40,86.00 A6.20,21.80 0 0 1 48.00,86.00 Z" fill="#969696" stroke="#1a1a1a" stroke-width="0.6"/>
<path d="M48.69,86.22 A5.51,22.67 0 0 1 59.71,86.22 A5.51,19.38 0 0 1 48.69,86.22 Z" fill="#7c7c7c" stroke="#1a1a1a" stroke-width="0.6"/>
<path d="M49.38,86.44 A4.82,19.83 0 0 1 59.02,86.44 A4.82,16.96 0 0 1 49.38,86.44 Z" fill="#696969" stroke="#1a1a1a" stroke-width="0.6"/>
<path d="M50.07,86.67 A4.13,17.00 0 0 1 58.33,86.67 A4.13,14.53 0 0 1 50.07,86.67 Z" fill="#585858" stroke="#1a1a1a" stroke-width="0.6"/>
<path d="M50.76,86.89 A3.44,14.17 0 0 1 57.64,86.89 A3.44,12.11 0 0 1 50.76,86.89 Z" fill="#484848" stroke="#1a1a1a" stroke-width="0.6"/>
<path d="M51.44,87.11 A2.76,11.33 0 0 1 56.96,87.11 A2.76,9.69 0 0 1 51.44,87.11 Z" fill="#393939" stroke="#1a1a1a" stroke-width="0.6"/>
<path d="M52.13,87.33 A2.07,8.50 0 0 1 56.27,87.33 A2.07,7.27 0 0 1 52.13,87.33 Z" fill="#2a2a2a" stroke="#1a1a1a" stroke-width="0.6"/>
<path d="M52.82,87.56 A1.38,5.67 0 0 1 55.58,87.56 A1.38,4.84 0 0 1 52.82,87.56 Z" fill="#1c1c1c" stroke="#1a1a1a" stroke-width="0.6"/>
<path d="M53.51,87.78 A0.69,2.83 0 0 1 54.89,87.78 A0.69,2.42 0 0 1 53.51,87.78 Z" fill="#0f0f0f" stroke="#1a1a1a" stroke-width="0.6"/>
<path d="M53.64,87.60 A0.56,15.30 0 0 1 54.76,87.60 A0.56,13.08 0 0 1 53.64,87.60 Z" fill="#fff" opacity="0.85"/>
<path d="M131.70,68.50 A6.20,10.50 0 0 1 144.10,68.50 A6.20,31.80 0 0 1 131.70,68.50 Z" fill="#aaaaaa" stroke="#1a1a1a" stroke-width="0.6"/>
<path d="M132.39,68.50 A5.51,9.33 0 0 1 143.41,68.50 A5.51,28.27 0 0 1 132.39,68.50 Z" fill="#8b8b8b" stroke="#1a1a1a" stroke-width="0.6"/>
<path d="M133.08,68.50 A4.82,8.17 0 0 1 142.72,68.50 A4.82,24.73 0 0 1 133.08,68.50 Z" fill="#757575" stroke="#1a1a1a" stroke-width="0.6"/>
<path d="M133.77,68.50 A4.13,7.00 0 0 1 142.03,68.50 A4.13,21.20 0 0 1 133.77,68.50 Z" fill="#606060" stroke="#1a1a1a" stroke-width="0.6"/>
<path d="M134.46,68.50 A3.44,5.83 0 0 1 141.34,68.50 A3.44,17.67 0 0 1 134.46,68.50 Z" fill="#4e4e4e" stroke="#1a1a1a" stroke-width="0.6"/>
<path d="M135.14,68.50 A2.76,4.67 0 0 1 140.66,68.50 A2.76,14.13 0 0 1 135.14,68.50 Z" fill="#3c3c3c" stroke="#1a1a1a" stroke-width="0.6"/>
<path d="M135.83,68.50 A2.07,3.50 0 0 1 139.97,68.50 A2.07,10.60 0 0 1 135.83,68.50 Z" fill="#2a2a2a" stroke="#1a1a1a" stroke-width="0.6"/>
<path d="M136.52,68.50 A1.38,2.33 0 0 1 139.28,68.50 A1.38,7.07 0 0 1 136.52,68.50 Z" fill="#1a1a1a" stroke="#1a1a1a" stroke-width="0.6"/>
<path d="M137.21,68.50 A0.69,1.17 0 0 1 138.59,68.50 A0.69,3.53 0 0 1 137.21,68.50 Z" fill="#0a0a0a" stroke="#1a1a1a" stroke-width="0.6"/>
<path d="M137.34,68.50 A0.56,6.30 0 0 1 138.46,68.50 A0.56,19.08 0 0 1 137.34,68.50 Z" fill="#fff" opacity="0.85"/>
<path d="M213.30,69.00 A6.30,10.20 0 0 1 225.90,69.00 A6.30,33.80 0 0 1 213.30,69.00 Z" fill="#aaaaaa" stroke="#1a1a1a" stroke-width="0.6"/>
<path d="M214.00,69.00 A5.60,9.07 0 0 1 225.20,69.00 A5.60,30.04 0 0 1 214.00,69.00 Z" fill="#8b8b8b" stroke="#1a1a1a" stroke-width="0.6"/>
<path d="M214.70,69.00 A4.90,7.93 0 0 1 224.50,69.00 A4.90,26.29 0 0 1 214.70,69.00 Z" fill="#757575" stroke="#1a1a1a" stroke-width="0.6"/>
<path d="M215.40,69.00 A4.20,6.80 0 0 1 223.80,69.00 A4.20,22.53 0 0 1 215.40,69.00 Z" fill="#606060" stroke="#1a1a1a" stroke-width="0.6"/>
<path d="M216.10,69.00 A3.50,5.67 0 0 1 223.10,69.00 A3.50,18.78 0 0 1 216.10,69.00 Z" fill="#4e4e4e" stroke="#1a1a1a" stroke-width="0.6"/>
<path d="M216.80,69.00 A2.80,4.53 0 0 1 222.40,69.00 A2.80,15.02 0 0 1 216.80,69.00 Z" fill="#3c3c3c" stroke="#1a1a1a" stroke-width="0.6"/>
<path d="M217.50,69.00 A2.10,3.40 0 0 1 221.70,69.00 A2.10,11.27 0 0 1 217.50,69.00 Z" fill="#2a2a2a" stroke="#1a1a1a" stroke-width="0.6"/>
<path d="M218.20,69.00 A1.40,2.27 0 0 1 221.00,69.00 A1.40,7.51 0 0 1 218.20,69.00 Z" fill="#1a1a1a" stroke="#1a1a1a" stroke-width="0.6"/>
<path d="M218.90,69.00 A0.70,1.13 0 0 1 220.30,69.00 A0.70,3.76 0 0 1 218.90,69.00 Z" fill="#0a0a0a" stroke="#1a1a1a" stroke-width="0.6"/>
<path d="M219.03,69.00 A0.57,6.12 0 0 1 220.17,69.00 A0.57,20.28 0 0 1 219.03,69.00 Z" fill="#fff" opacity="0.85"/>
<path d="M49.50,163.00 A5.80,20.00 0 0 1 61.10,163.00 A5.80,27.80 0 0 1 49.50,163.00 Z" fill="#7d7d7d" stroke="#1a1a1a" stroke-width="0.6"/>
<path d="M50.14,163.00 A5.16,17.78 0 0 1 60.46,163.00 A5.16,24.71 0 0 1 50.14,163.00 Z" fill="#676767" stroke="#1a1a1a" stroke-width="0.6"/>
<path d="M50.79,163.00 A4.51,15.56 0 0 1 59.81,163.00 A4.51,21.62 0 0 1 50.79,163.00 Z" fill="#575757" stroke="#1a1a1a" stroke-width="0.6"/>
<path d="M51.43,163.00 A3.87,13.33 0 0 1 59.17,163.00 A3.87,18.53 0 0 1 51.43,163.00 Z" fill="#494949" stroke="#1a1a1a" stroke-width="0.6"/>
<path d="M52.08,163.00 A3.22,11.11 0 0 1 58.52,163.00 A3.22,15.44 0 0 1 52.08,163.00 Z" fill="#3c3c3c" stroke="#1a1a1a" stroke-width="0.6"/>
<path d="M52.72,163.00 A2.58,8.89 0 0 1 57.88,163.00 A2.58,12.36 0 0 1 52.72,163.00 Z" fill="#2f2f2f" stroke="#1a1a1a" stroke-width="0.6"/>
<path d="M53.37,163.00 A1.93,6.67 0 0 1 57.23,163.00 A1.93,9.27 0 0 1 53.37,163.00 Z" fill="#232323" stroke="#1a1a1a" stroke-width="0.6"/>
<path d="M54.01,163.00 A1.29,4.44 0 0 1 56.59,163.00 A1.29,6.18 0 0 1 54.01,163.00 Z" fill="#171717" stroke="#1a1a1a" stroke-width="0.6"/>
<path d="M54.66,163.00 A0.64,2.22 0 0 1 55.94,163.00 A0.64,3.09 0 0 1 54.66,163.00 Z" fill="#0c0c0c" stroke="#1a1a1a" stroke-width="0.6"/>
<path d="M54.78,163.00 A0.52,12.00 0 0 1 55.82,163.00 A0.52,16.68 0 0 1 54.78,163.00 Z" fill="#fff" opacity="0.85"/>
<path d="M132.70,151.00 A5.70,12.50 0 0 1 144.10,151.00 A5.70,36.50 0 0 1 132.70,151.00 Z" fill="#aaaaaa" stroke="#1a1a1a" stroke-width="0.6"/>
<path d="M133.33,151.00 A5.07,11.11 0 0 1 143.47,151.00 A5.07,32.44 0 0 1 133.33,151.00 Z" fill="#8b8b8b" stroke="#1a1a1a" stroke-width="0.6"/>
<path d="M133.97,151.00 A4.43,9.72 0 0 1 142.83,151.00 A4.43,28.39 0 0 1 133.97,151.00 Z" fill="#757575" stroke="#1a1a1a" stroke-width="0.6"/>
<path d="M134.60,151.00 A3.80,8.33 0 0 1 142.20,151.00 A3.80,24.33 0 0 1 134.60,151.00 Z" fill="#606060" stroke="#1a1a1a" stroke-width="0.6"/>
<path d="M135.23,151.00 A3.17,6.94 0 0 1 141.57,151.00 A3.17,20.28 0 0 1 135.23,151.00 Z" fill="#4e4e4e" stroke="#1a1a1a" stroke-width="0.6"/>
<path d="M135.87,151.00 A2.53,5.56 0 0 1 140.93,151.00 A2.53,16.22 0 0 1 135.87,151.00 Z" fill="#3c3c3c" stroke="#1a1a1a" stroke-width="0.6"/>
<path d="M136.50,151.00 A1.90,4.17 0 0 1 140.30,151.00 A1.90,12.17 0 0 1 136.50,151.00 Z" fill="#2a2a2a" stroke="#1a1a1a" stroke-width="0.6"/>
<path d="M137.13,151.00 A1.27,2.78 0 0 1 139.67,151.00 A1.27,8.11 0 0 1 137.13,151.00 Z" fill="#1a1a1a" stroke="#1a1a1a" stroke-width="0.6"/>
<path d="M137.77,151.00 A0.63,1.39 0 0 1 139.03,151.00 A0.63,4.06 0 0 1 137.77,151.00 Z" fill="#0a0a0a" stroke="#1a1a1a" stroke-width="0.6"/>
<path d="M137.89,151.00 A0.51,7.50 0 0 1 138.91,151.00 A0.51,21.90 0 0 1 137.89,151.00 Z" fill="#fff" opacity="0.85"/>
<path d="M215.10,151.50 A5.50,10.50 0 0 1 226.10,151.50 A5.50,37.60 0 0 1 215.10,151.50 Z" fill="#737373" stroke="#1a1a1a" stroke-width="0.6"/>
<path d="M215.71,151.50 A4.89,9.33 0 0 1 225.49,151.50 A4.89,33.42 0 0 1 215.71,151.50 Z" fill="#5f5f5f" stroke="#1a1a1a" stroke-width="0.6"/>
<path d="M216.32,151.50 A4.28,8.17 0 0 1 224.88,151.50 A4.28,29.24 0 0 1 216.32,151.50 Z" fill="#505050" stroke="#1a1a1a" stroke-width="0.6"/>
<path d="M216.93,151.50 A3.67,7.00 0 0 1 224.27,151.50 A3.67,25.07 0 0 1 216.93,151.50 Z" fill="#434343" stroke="#1a1a1a" stroke-width="0.6"/>
<path d="M217.54,151.50 A3.06,5.83 0 0 1 223.66,151.50 A3.06,20.89 0 0 1 217.54,151.50 Z" fill="#363636" stroke="#1a1a1a" stroke-width="0.6"/>
<path d="M218.16,151.50 A2.44,4.67 0 0 1 223.04,151.50 A2.44,16.71 0 0 1 218.16,151.50 Z" fill="#2a2a2a" stroke="#1a1a1a" stroke-width="0.6"/>
<path d="M218.77,151.50 A1.83,3.50 0 0 1 222.43,151.50 A1.83,12.53 0 0 1 218.77,151.50 Z" fill="#1f1f1f" stroke="#1a1a1a" stroke-width="0.6"/>
<path d="M219.38,151.50 A1.22,2.33 0 0 1 221.82,151.50 A1.22,8.36 0 0 1 219.38,151.50 Z" fill="#141414" stroke="#1a1a1a" stroke-width="0.6"/>
<path d="M219.99,151.50 A0.61,1.17 0 0 1 221.21,151.50 A0.61,4.18 0 0 1 219.99,151.50 Z" fill="#0a0a0a" stroke="#1a1a1a" stroke-width="0.6"/>
<path d="M220.10,151.50 A0.49,6.30 0 0 1 221.09,151.50 A0.49,22.56 0 0 1 220.10,151.50 Z" fill="#fff" opacity="0.85"/>
<path d="M63.8,58 C66,56.5 69,58 72,57 C74,55.5 76,54.5 78,55.5 C80.5,57 81,62 80.5,65.5 C80,68.5 77,69 74,68.5 C70,68.5 66,71 63.8,71" fill="none" stroke="#3c3c3c" stroke-width="0.85" opacity="1"/>
<ellipse cx="75.5" cy="61.5" rx="3" ry="3.6" fill="none" stroke="#3c3c3c" stroke-width="0.85"/>
<ellipse cx="75.5" cy="61.2" rx="1.3" ry="1.6" fill="none" stroke="#3c3c3c" stroke-width="0.85"/>
<ellipse cx="65.6" cy="65.5" rx="0.9" ry="1.6" fill="none" stroke="#5a5a5a" stroke-width="0.85"/>
<ellipse cx="68.8" cy="63.6" rx="1.1" ry="1.8" fill="none" stroke="#5a5a5a" stroke-width="0.85"/>
<ellipse cx="71.6" cy="63.2" rx="0.9" ry="1.5" fill="none" stroke="#5a5a5a" stroke-width="0.85"/>
<path d="M140,51 C146,48 156,46.5 163,47 C168,47.5 169,50 166,53 C163,56 161,58 161,62 C162,66 162,70 159,74 C157,77 154,80 150,80.5 C147,81 145.5,79 145.5,76 L145.5,60 C144,57 141,54 140,51 Z" fill="none" stroke="#3c3c3c" stroke-width="0.85" opacity="1"/>
<path d="M146,55 C151,52 158,50 163,50 C166,50 165,53 162,55 C158,58 157,62 158,66 C158,71 154,76 150,77 C148,77.5 147,76 147,73 Z" fill="none" stroke="#3c3c3c" stroke-width="0.85" opacity="1"/>
<path d="M147.5,59 C152,56 157,54 161,53 M147.5,64 C151,62 154,60 157,57.5 M148.5,70 C151,66 153.5,63 156,60.5" fill="none" stroke="#5a5a5a" stroke-width="0.85" opacity="1"/>
<ellipse cx="155.6" cy="66" rx="1.3" ry="1.7" fill="none" stroke="#5a5a5a" stroke-width="0.85"/>
<ellipse cx="161.5" cy="50.8" rx="2.2" ry="1.4" fill="none" stroke="#5a5a5a" stroke-width="0.85"/>
<path d="M145,84 C148,84 150,83 152,82.5" fill="none" stroke="#999" stroke-width="0.6" opacity="1"/>
<path d="M229.5,60 C233,59 236,57.5 238,56.5 C240,55.5 243,56.5 244.5,58.5 C246,60.5 244,62.5 243,64 C242,66 241.5,69 240.5,72.5 C238,74 233,73.5 229.5,74" fill="none" stroke="#3c3c3c" stroke-width="0.85" opacity="1"/>
<path d="M229.5,62.5 C233,62.5 236,63 238.5,63.5 C240,65 239,68 236.5,69.5 C234,70.5 231,70 229.5,69" fill="none" stroke="#3c3c3c" stroke-width="0.85" opacity="1"/>
<ellipse cx="241" cy="61" rx="1.5" ry="1.7" fill="none" stroke="#5a5a5a" stroke-width="0.85"/>
<ellipse cx="235" cy="67.3" rx="1.4" ry="1.6" fill="none" stroke="#5a5a5a" stroke-width="0.85"/>
<path d="M63.5,146 C67,143 72,140.5 77,140.5 C80.5,141 81.5,145 80.5,148.5 C79.5,152 77,155 75,157" fill="none" stroke="#3c3c3c" stroke-width="0.85" opacity="1"/>
<path d="M64.5,148.5 C68,146 73,143.5 76,143.5 C78.5,144 78.5,148 76.5,150 C74,151.5 71,150 69,151 C67,152.5 66.5,155 64.5,156" fill="none" stroke="#3c3c3c" stroke-width="0.85" opacity="1"/>
<path d="M67,160 C69,157.5 72,156.5 75,157.5" fill="none" stroke="#5a5a5a" stroke-width="0.85" opacity="1"/>
<path d="M146.5,138.5 C149,138.5 151,139 152,142 C153,145 156,144.5 158,145.5 C160.5,147.5 159,152 157,155.5 C155.5,158 154,160 156.5,162.5" fill="none" stroke="#3c3c3c" stroke-width="0.85" opacity="1"/>
<path d="M147,146 C150,148 151.5,152 150,156 C149,158 148,159.5 146.5,161" fill="none" stroke="#5a5a5a" stroke-width="0.85" opacity="1"/>
<path d="M152,136 C155,135 158,137 159,139 M157,141 C160,140 162,142 162,144" fill="none" stroke="#999" stroke-width="0.6" opacity="1"/>
<path d="M229.5,140 C232,138 236,137 239.5,138 C243,139.5 244,144 243.5,148 C243,152 241,155 239,158 C238,160 235,160 232,158.5 C230.5,158 229.5,157.5 229.5,157" fill="none" stroke="#3c3c3c" stroke-width="0.85" opacity="1"/>
<path d="M230,143 C233,141 237,140.5 240,142 C242,144 241.5,148 239.5,150 C237,151.5 233,150 230,148.5" fill="none" stroke="#3c3c3c" stroke-width="0.85" opacity="1"/>
<path d="M230,153.5 C233,153 236,153 239.5,152.5" fill="none" stroke="#5a5a5a" stroke-width="0.85" opacity="1"/>
<path d="M229.5,136 C234,134 240,134.5 244,137 C247,140 247,147 246,152 C245,157 243,161 241,164" fill="none" stroke="#777" stroke-width="0.7" opacity="1"/>
<path d="M232,162 C235,161 238,162 240,165 M236,156 C238,157 240,160 241,162" fill="none" stroke="#888" stroke-width="0.6" opacity="1"/>
<ellipse cx="235.5" cy="146" rx="1.5" ry="1.8" fill="none" stroke="#5a5a5a" stroke-width="0.85"/>
<line x1="33.50" y1="81.80" x2="279.40" y2="81.80" stroke="#000" stroke-width="1.7"/>
<line x1="33.50" y1="167.00" x2="279.40" y2="167.00" stroke="#000" stroke-width="1.7"/>
<text x="35.90" y="45.20" font-size="9.55" text-anchor="start" fill="#111">33.3</text>
<text x="111.20" y="45.20" font-size="9.55" text-anchor="end" fill="#111">8.49</text>
<text x="36.30" y="116.50" font-size="9.55" text-anchor="start" fill="#111">57.1</text>
<text x="118.10" y="45.20" font-size="9.55" text-anchor="start" fill="#111">67.5</text>
<text x="192.00" y="45.20" font-size="9.55" text-anchor="end" fill="#111">19</text>
<text x="120.10" y="116.50" font-size="9.55" text-anchor="start" fill="#111">12.1</text>
<text x="201.30" y="45.20" font-size="9.55" text-anchor="start" fill="#111">65.8</text>
<text x="274.30" y="45.20" font-size="9.55" text-anchor="end" fill="#111">11.1</text>
<text x="201.80" y="116.50" font-size="9.55" text-anchor="start" fill="#111">22.9</text>
<text x="36.30" y="130.40" font-size="9.55" text-anchor="start" fill="#111">57.3</text>
<text x="111.20" y="130.40" font-size="9.55" text-anchor="end" fill="#111">11.6</text>
<text x="36.30" y="201.00" font-size="9.55" text-anchor="start" fill="#111">30.2</text>
<text x="118.80" y="130.40" font-size="9.55" text-anchor="start" fill="#111">76.8</text>
<text x="192.00" y="130.40" font-size="9.55" text-anchor="end" fill="#111">9.95</text>
<text x="119.80" y="200.70" font-size="9.55" text-anchor="start" fill="#111">12.5</text>
<text x="202.90" y="130.40" font-size="9.55" text-anchor="start" fill="#111">67.6</text>
<text x="274.80" y="130.40" font-size="9.55" text-anchor="end" fill="#111">16.5</text>
<text x="203.50" y="201.20" font-size="9.55" text-anchor="start" fill="#111">15.6</text>
<text x="34.80" y="56.90" font-size="10.2" text-anchor="start" font-weight="bold">G1</text>
<text x="33.80" y="104.80" font-size="10.2" text-anchor="start" font-weight="bold">G0</text>
<text x="74.20" y="78.20" font-size="10.3" text-anchor="start" font-weight="bold">S/G2/M</text>
<text x="29.80" y="47.90" font-size="6.3" text-anchor="end" fill="#111">10<tspan dy="-2" font-size="4.6">5</tspan></text>
<text x="29.80" y="65.60" font-size="6.3" text-anchor="end" fill="#111">10<tspan dy="-2" font-size="4.6">4</tspan></text>
<text x="29.80" y="85.90" font-size="6.3" text-anchor="end" fill="#111">10<tspan dy="-2" font-size="4.6">3</tspan></text>
<text x="28.00" y="104.10" font-size="6.3" text-anchor="end" fill="#111">0</text>
<text x="29.80" y="132.50" font-size="6.3" text-anchor="end" fill="#111">10<tspan dy="-2" font-size="4.6">5</tspan></text>
<text x="29.80" y="150.20" font-size="6.3" text-anchor="end" fill="#111">10<tspan dy="-2" font-size="4.6">4</tspan></text>
<text x="29.80" y="170.50" font-size="6.3" text-anchor="end" fill="#111">10<tspan dy="-2" font-size="4.6">3</tspan></text>
<text x="28.00" y="188.70" font-size="6.3" text-anchor="end" fill="#111">0</text>
<text x="40.50" y="211.60" font-size="6.9" text-anchor="start" fill="#111">5x10<tspan dy="-2.2" font-size="4.6">4</tspan><tspan dy="2.2"> 10</tspan><tspan dy="-2.2" font-size="4.6">5</tspan></text>
<text x="123.70" y="211.60" font-size="6.9" text-anchor="start" fill="#111">5x10<tspan dy="-2.2" font-size="4.6">4</tspan><tspan dy="2.2"> 10</tspan><tspan dy="-2.2" font-size="4.6">5</tspan></text>
<text x="206.00" y="211.60" font-size="6.9" text-anchor="start" fill="#111">5x10<tspan dy="-2.2" font-size="4.6">4</tspan><tspan dy="2.2"> 10</tspan><tspan dy="-2.2" font-size="4.6">5</tspan></text>
<line x1="13.90" y1="163.60" x2="13.90" y2="42.50" stroke="#000" stroke-width="1.3"/>
<polygon points="13.9,37.2 10.9,43.8 16.9,43.8" fill="#000"/>
<text x="18.60" y="190.40" font-size="10" text-anchor="middle" fill="#111" transform="rotate(-90 18.60 190.40)" textLength="16.6" lengthAdjust="spacingAndGlyphs">Ki67</text>
<text x="34.60" y="221.50" font-size="10" text-anchor="start" fill="#111" textLength="20.6" lengthAdjust="spacingAndGlyphs">DAPI</text>
<line x1="70.80" y1="219.50" x2="268.00" y2="219.50" stroke="#000" stroke-width="1.3"/>
<polygon points="274.0,219.5 267.0,216.5 267.0,222.5" fill="#000"/>
<text x="357.70" y="31.80" font-size="10" text-anchor="middle" fill="#111">LSK</text>
<text x="441.60" y="31.80" font-size="10" text-anchor="middle" fill="#111">Pre-Meg/E</text>
<rect x="317.70" y="37.30" width="80.00" height="80.00" fill="#fff" stroke="#9a9a9a" stroke-width="1"/>
<rect x="401.70" y="37.30" width="79.80" height="80.00" fill="#fff" stroke="#9a9a9a" stroke-width="1"/>
<rect x="317.70" y="121.50" width="80.00" height="78.80" fill="#fff" stroke="#9a9a9a" stroke-width="1"/>
<rect x="401.70" y="121.50" width="79.80" height="78.80" fill="#fff" stroke="#9a9a9a" stroke-width="1"/>
<line x1="338.00" y1="37.80" x2="338.00" y2="116.80" stroke="#e3e3e3" stroke-width="0.6"/>
<line x1="372.50" y1="37.80" x2="372.50" y2="116.80" stroke="#e3e3e3" stroke-width="0.6"/>
<line x1="389.00" y1="37.80" x2="389.00" y2="116.80" stroke="#e3e3e3" stroke-width="0.6"/>
<line x1="318.20" y1="60.00" x2="397.20" y2="60.00" stroke="#e3e3e3" stroke-width="0.6"/>
<line x1="318.20" y1="77.00" x2="397.20" y2="77.00" stroke="#e3e3e3" stroke-width="0.6"/>
<line x1="318.20" y1="96.00" x2="397.20" y2="96.00" stroke="#e3e3e3" stroke-width="0.6"/>
<line x1="422.00" y1="37.80" x2="422.00" y2="116.80" stroke="#e3e3e3" stroke-width="0.6"/>
<line x1="456.50" y1="37.80" x2="456.50" y2="116.80" stroke="#e3e3e3" stroke-width="0.6"/>
<line x1="473.00" y1="37.80" x2="473.00" y2="116.80" stroke="#e3e3e3" stroke-width="0.6"/>
<line x1="402.20" y1="60.00" x2="481.00" y2="60.00" stroke="#e3e3e3" stroke-width="0.6"/>
<line x1="402.20" y1="77.00" x2="481.00" y2="77.00" stroke="#e3e3e3" stroke-width="0.6"/>
<line x1="402.20" y1="96.00" x2="481.00" y2="96.00" stroke="#e3e3e3" stroke-width="0.6"/>
<line x1="338.00" y1="122.00" x2="338.00" y2="199.80" stroke="#e3e3e3" stroke-width="0.6"/>
<line x1="372.50" y1="122.00" x2="372.50" y2="199.80" stroke="#e3e3e3" stroke-width="0.6"/>
<line x1="389.00" y1="122.00" x2="389.00" y2="199.80" stroke="#e3e3e3" stroke-width="0.6"/>
<line x1="318.20" y1="144.20" x2="397.20" y2="144.20" stroke="#e3e3e3" stroke-width="0.6"/>
<line x1="318.20" y1="161.20" x2="397.20" y2="161.20" stroke="#e3e3e3" stroke-width="0.6"/>
<line x1="318.20" y1="180.20" x2="397.20" y2="180.20" stroke="#e3e3e3" stroke-width="0.6"/>
<line x1="422.00" y1="122.00" x2="422.00" y2="199.80" stroke="#e3e3e3" stroke-width="0.6"/>
<line x1="456.50" y1="122.00" x2="456.50" y2="199.80" stroke="#e3e3e3" stroke-width="0.6"/>
<line x1="473.00" y1="122.00" x2="473.00" y2="199.80" stroke="#e3e3e3" stroke-width="0.6"/>
<line x1="402.20" y1="144.20" x2="481.00" y2="144.20" stroke="#e3e3e3" stroke-width="0.6"/>
<line x1="402.20" y1="161.20" x2="481.00" y2="161.20" stroke="#e3e3e3" stroke-width="0.6"/>
<line x1="402.20" y1="180.20" x2="481.00" y2="180.20" stroke="#e3e3e3" stroke-width="0.6"/>
<line x1="314.80" y1="43.60" x2="317.60" y2="43.60" stroke="#555" stroke-width="0.9"/>
<line x1="314.80" y1="60.00" x2="317.60" y2="60.00" stroke="#555" stroke-width="0.9"/>
<line x1="314.80" y1="77.20" x2="317.60" y2="77.20" stroke="#555" stroke-width="0.9"/>
<line x1="314.80" y1="96.20" x2="317.60" y2="96.20" stroke="#555" stroke-width="0.9"/>
<line x1="314.80" y1="106.00" x2="317.60" y2="106.00" stroke="#555" stroke-width="0.9"/>
<line x1="315.60" y1="48.00" x2="317.40" y2="48.00" stroke="#aaa" stroke-width="0.5"/>
<line x1="315.60" y1="52.00" x2="317.40" y2="52.00" stroke="#aaa" stroke-width="0.5"/>
<line x1="315.60" y1="55.00" x2="317.40" y2="55.00" stroke="#aaa" stroke-width="0.5"/>
<line x1="315.60" y1="65.00" x2="317.40" y2="65.00" stroke="#aaa" stroke-width="0.5"/>
<line x1="315.60" y1="69.00" x2="317.40" y2="69.00" stroke="#aaa" stroke-width="0.5"/>
<line x1="315.60" y1="72.00" x2="317.40" y2="72.00" stroke="#aaa" stroke-width="0.5"/>
<line x1="315.60" y1="82.00" x2="317.40" y2="82.00" stroke="#aaa" stroke-width="0.5"/>
<line x1="315.60" y1="86.00" x2="317.40" y2="86.00" stroke="#aaa" stroke-width="0.5"/>
<line x1="315.60" y1="89.00" x2="317.40" y2="89.00" stroke="#aaa" stroke-width="0.5"/>
<line x1="315.60" y1="100.00" x2="317.40" y2="100.00" stroke="#aaa" stroke-width="0.5"/>
<line x1="334.60" y1="117.60" x2="334.60" y2="119.60" stroke="#666" stroke-width="0.8"/>
<line x1="354.60" y1="117.60" x2="354.60" y2="119.60" stroke="#666" stroke-width="0.8"/>
<line x1="372.50" y1="117.60" x2="372.50" y2="119.60" stroke="#666" stroke-width="0.8"/>
<line x1="389.20" y1="117.60" x2="389.20" y2="119.60" stroke="#666" stroke-width="0.8"/>
<line x1="321.00" y1="117.60" x2="321.00" y2="119.00" stroke="#aaa" stroke-width="0.5"/>
<line x1="324.00" y1="117.60" x2="324.00" y2="119.00" stroke="#aaa" stroke-width="0.5"/>
<line x1="327.00" y1="117.60" x2="327.00" y2="119.00" stroke="#aaa" stroke-width="0.5"/>
<line x1="330.00" y1="117.60" x2="330.00" y2="119.00" stroke="#aaa" stroke-width="0.5"/>
<line x1="341.00" y1="117.60" x2="341.00" y2="119.00" stroke="#aaa" stroke-width="0.5"/>
<line x1="344.00" y1="117.60" x2="344.00" y2="119.00" stroke="#aaa" stroke-width="0.5"/>
<line x1="347.00" y1="117.60" x2="347.00" y2="119.00" stroke="#aaa" stroke-width="0.5"/>
<line x1="350.00" y1="117.60" x2="350.00" y2="119.00" stroke="#aaa" stroke-width="0.5"/>
<line x1="361.00" y1="117.60" x2="361.00" y2="119.00" stroke="#aaa" stroke-width="0.5"/>
<line x1="364.00" y1="117.60" x2="364.00" y2="119.00" stroke="#aaa" stroke-width="0.5"/>
<line x1="367.00" y1="117.60" x2="367.00" y2="119.00" stroke="#aaa" stroke-width="0.5"/>
<line x1="377.00" y1="117.60" x2="377.00" y2="119.00" stroke="#aaa" stroke-width="0.5"/>
<line x1="380.00" y1="117.60" x2="380.00" y2="119.00" stroke="#aaa" stroke-width="0.5"/>
<line x1="383.00" y1="117.60" x2="383.00" y2="119.00" stroke="#aaa" stroke-width="0.5"/>
<line x1="398.80" y1="43.60" x2="401.60" y2="43.60" stroke="#555" stroke-width="0.9"/>
<line x1="398.80" y1="60.00" x2="401.60" y2="60.00" stroke="#555" stroke-width="0.9"/>
<line x1="398.80" y1="77.20" x2="401.60" y2="77.20" stroke="#555" stroke-width="0.9"/>
<line x1="398.80" y1="96.20" x2="401.60" y2="96.20" stroke="#555" stroke-width="0.9"/>
<line x1="398.80" y1="106.00" x2="401.60" y2="106.00" stroke="#555" stroke-width="0.9"/>
<line x1="399.60" y1="48.00" x2="401.40" y2="48.00" stroke="#aaa" stroke-width="0.5"/>
<line x1="399.60" y1="52.00" x2="401.40" y2="52.00" stroke="#aaa" stroke-width="0.5"/>
<line x1="399.60" y1="55.00" x2="401.40" y2="55.00" stroke="#aaa" stroke-width="0.5"/>
<line x1="399.60" y1="65.00" x2="401.40" y2="65.00" stroke="#aaa" stroke-width="0.5"/>
<line x1="399.60" y1="69.00" x2="401.40" y2="69.00" stroke="#aaa" stroke-width="0.5"/>
<line x1="399.60" y1="72.00" x2="401.40" y2="72.00" stroke="#aaa" stroke-width="0.5"/>
<line x1="399.60" y1="82.00" x2="401.40" y2="82.00" stroke="#aaa" stroke-width="0.5"/>
<line x1="399.60" y1="86.00" x2="401.40" y2="86.00" stroke="#aaa" stroke-width="0.5"/>
<line x1="399.60" y1="89.00" x2="401.40" y2="89.00" stroke="#aaa" stroke-width="0.5"/>
<line x1="399.60" y1="100.00" x2="401.40" y2="100.00" stroke="#aaa" stroke-width="0.5"/>
<line x1="418.60" y1="117.60" x2="418.60" y2="119.60" stroke="#666" stroke-width="0.8"/>
<line x1="438.60" y1="117.60" x2="438.60" y2="119.60" stroke="#666" stroke-width="0.8"/>
<line x1="456.50" y1="117.60" x2="456.50" y2="119.60" stroke="#666" stroke-width="0.8"/>
<line x1="473.20" y1="117.60" x2="473.20" y2="119.60" stroke="#666" stroke-width="0.8"/>
<line x1="405.00" y1="117.60" x2="405.00" y2="119.00" stroke="#aaa" stroke-width="0.5"/>
<line x1="408.00" y1="117.60" x2="408.00" y2="119.00" stroke="#aaa" stroke-width="0.5"/>
<line x1="411.00" y1="117.60" x2="411.00" y2="119.00" stroke="#aaa" stroke-width="0.5"/>
<line x1="414.00" y1="117.60" x2="414.00" y2="119.00" stroke="#aaa" stroke-width="0.5"/>
<line x1="425.00" y1="117.60" x2="425.00" y2="119.00" stroke="#aaa" stroke-width="0.5"/>
<line x1="428.00" y1="117.60" x2="428.00" y2="119.00" stroke="#aaa" stroke-width="0.5"/>
<line x1="431.00" y1="117.60" x2="431.00" y2="119.00" stroke="#aaa" stroke-width="0.5"/>
<line x1="434.00" y1="117.60" x2="434.00" y2="119.00" stroke="#aaa" stroke-width="0.5"/>
<line x1="445.00" y1="117.60" x2="445.00" y2="119.00" stroke="#aaa" stroke-width="0.5"/>
<line x1="448.00" y1="117.60" x2="448.00" y2="119.00" stroke="#aaa" stroke-width="0.5"/>
<line x1="451.00" y1="117.60" x2="451.00" y2="119.00" stroke="#aaa" stroke-width="0.5"/>
<line x1="461.00" y1="117.60" x2="461.00" y2="119.00" stroke="#aaa" stroke-width="0.5"/>
<line x1="464.00" y1="117.60" x2="464.00" y2="119.00" stroke="#aaa" stroke-width="0.5"/>
<line x1="467.00" y1="117.60" x2="467.00" y2="119.00" stroke="#aaa" stroke-width="0.5"/>
<line x1="314.80" y1="127.60" x2="317.60" y2="127.60" stroke="#555" stroke-width="0.9"/>
<line x1="314.80" y1="144.00" x2="317.60" y2="144.00" stroke="#555" stroke-width="0.9"/>
<line x1="314.80" y1="161.20" x2="317.60" y2="161.20" stroke="#555" stroke-width="0.9"/>
<line x1="314.80" y1="180.20" x2="317.60" y2="180.20" stroke="#555" stroke-width="0.9"/>
<line x1="314.80" y1="190.00" x2="317.60" y2="190.00" stroke="#555" stroke-width="0.9"/>
<line x1="315.60" y1="132.00" x2="317.40" y2="132.00" stroke="#aaa" stroke-width="0.5"/>
<line x1="315.60" y1="136.00" x2="317.40" y2="136.00" stroke="#aaa" stroke-width="0.5"/>
<line x1="315.60" y1="139.00" x2="317.40" y2="139.00" stroke="#aaa" stroke-width="0.5"/>
<line x1="315.60" y1="149.00" x2="317.40" y2="149.00" stroke="#aaa" stroke-width="0.5"/>
<line x1="315.60" y1="153.00" x2="317.40" y2="153.00" stroke="#aaa" stroke-width="0.5"/>
<line x1="315.60" y1="156.00" x2="317.40" y2="156.00" stroke="#aaa" stroke-width="0.5"/>
<line x1="315.60" y1="166.00" x2="317.40" y2="166.00" stroke="#aaa" stroke-width="0.5"/>
<line x1="315.60" y1="170.00" x2="317.40" y2="170.00" stroke="#aaa" stroke-width="0.5"/>
<line x1="315.60" y1="173.00" x2="317.40" y2="173.00" stroke="#aaa" stroke-width="0.5"/>
<line x1="315.60" y1="184.00" x2="317.40" y2="184.00" stroke="#aaa" stroke-width="0.5"/>
<line x1="334.60" y1="200.60" x2="334.60" y2="202.60" stroke="#666" stroke-width="0.8"/>
<line x1="354.60" y1="200.60" x2="354.60" y2="202.60" stroke="#666" stroke-width="0.8"/>
<line x1="372.50" y1="200.60" x2="372.50" y2="202.60" stroke="#666" stroke-width="0.8"/>
<line x1="389.20" y1="200.60" x2="389.20" y2="202.60" stroke="#666" stroke-width="0.8"/>
<line x1="321.00" y1="200.60" x2="321.00" y2="202.00" stroke="#aaa" stroke-width="0.5"/>
<line x1="324.00" y1="200.60" x2="324.00" y2="202.00" stroke="#aaa" stroke-width="0.5"/>
<line x1="327.00" y1="200.60" x2="327.00" y2="202.00" stroke="#aaa" stroke-width="0.5"/>
<line x1="330.00" y1="200.60" x2="330.00" y2="202.00" stroke="#aaa" stroke-width="0.5"/>
<line x1="341.00" y1="200.60" x2="341.00" y2="202.00" stroke="#aaa" stroke-width="0.5"/>
<line x1="344.00" y1="200.60" x2="344.00" y2="202.00" stroke="#aaa" stroke-width="0.5"/>
<line x1="347.00" y1="200.60" x2="347.00" y2="202.00" stroke="#aaa" stroke-width="0.5"/>
<line x1="350.00" y1="200.60" x2="350.00" y2="202.00" stroke="#aaa" stroke-width="0.5"/>
<line x1="361.00" y1="200.60" x2="361.00" y2="202.00" stroke="#aaa" stroke-width="0.5"/>
<line x1="364.00" y1="200.60" x2="364.00" y2="202.00" stroke="#aaa" stroke-width="0.5"/>
<line x1="367.00" y1="200.60" x2="367.00" y2="202.00" stroke="#aaa" stroke-width="0.5"/>
<line x1="377.00" y1="200.60" x2="377.00" y2="202.00" stroke="#aaa" stroke-width="0.5"/>
<line x1="380.00" y1="200.60" x2="380.00" y2="202.00" stroke="#aaa" stroke-width="0.5"/>
<line x1="383.00" y1="200.60" x2="383.00" y2="202.00" stroke="#aaa" stroke-width="0.5"/>
<line x1="398.80" y1="127.60" x2="401.60" y2="127.60" stroke="#555" stroke-width="0.9"/>
<line x1="398.80" y1="144.00" x2="401.60" y2="144.00" stroke="#555" stroke-width="0.9"/>
<line x1="398.80" y1="161.20" x2="401.60" y2="161.20" stroke="#555" stroke-width="0.9"/>
<line x1="398.80" y1="180.20" x2="401.60" y2="180.20" stroke="#555" stroke-width="0.9"/>
<line x1="398.80" y1="190.00" x2="401.60" y2="190.00" stroke="#555" stroke-width="0.9"/>
<line x1="399.60" y1="132.00" x2="401.40" y2="132.00" stroke="#aaa" stroke-width="0.5"/>
<line x1="399.60" y1="136.00" x2="401.40" y2="136.00" stroke="#aaa" stroke-width="0.5"/>
<line x1="399.60" y1="139.00" x2="401.40" y2="139.00" stroke="#aaa" stroke-width="0.5"/>
<line x1="399.60" y1="149.00" x2="401.40" y2="149.00" stroke="#aaa" stroke-width="0.5"/>
<line x1="399.60" y1="153.00" x2="401.40" y2="153.00" stroke="#aaa" stroke-width="0.5"/>
<line x1="399.60" y1="156.00" x2="401.40" y2="156.00" stroke="#aaa" stroke-width="0.5"/>
<line x1="399.60" y1="166.00" x2="401.40" y2="166.00" stroke="#aaa" stroke-width="0.5"/>
<line x1="399.60" y1="170.00" x2="401.40" y2="170.00" stroke="#aaa" stroke-width="0.5"/>
<line x1="399.60" y1="173.00" x2="401.40" y2="173.00" stroke="#aaa" stroke-width="0.5"/>
<line x1="399.60" y1="184.00" x2="401.40" y2="184.00" stroke="#aaa" stroke-width="0.5"/>
<line x1="418.60" y1="200.60" x2="418.60" y2="202.60" stroke="#666" stroke-width="0.8"/>
<line x1="438.60" y1="200.60" x2="438.60" y2="202.60" stroke="#666" stroke-width="0.8"/>
<line x1="456.50" y1="200.60" x2="456.50" y2="202.60" stroke="#666" stroke-width="0.8"/>
<line x1="473.20" y1="200.60" x2="473.20" y2="202.60" stroke="#666" stroke-width="0.8"/>
<line x1="405.00" y1="200.60" x2="405.00" y2="202.00" stroke="#aaa" stroke-width="0.5"/>
<line x1="408.00" y1="200.60" x2="408.00" y2="202.00" stroke="#aaa" stroke-width="0.5"/>
<line x1="411.00" y1="200.60" x2="411.00" y2="202.00" stroke="#aaa" stroke-width="0.5"/>
<line x1="414.00" y1="200.60" x2="414.00" y2="202.00" stroke="#aaa" stroke-width="0.5"/>
<line x1="425.00" y1="200.60" x2="425.00" y2="202.00" stroke="#aaa" stroke-width="0.5"/>
<line x1="428.00" y1="200.60" x2="428.00" y2="202.00" stroke="#aaa" stroke-width="0.5"/>
<line x1="431.00" y1="200.60" x2="431.00" y2="202.00" stroke="#aaa" stroke-width="0.5"/>
<line x1="434.00" y1="200.60" x2="434.00" y2="202.00" stroke="#aaa" stroke-width="0.5"/>
<line x1="445.00" y1="200.60" x2="445.00" y2="202.00" stroke="#aaa" stroke-width="0.5"/>
<line x1="448.00" y1="200.60" x2="448.00" y2="202.00" stroke="#aaa" stroke-width="0.5"/>
<line x1="451.00" y1="200.60" x2="451.00" y2="202.00" stroke="#aaa" stroke-width="0.5"/>
<line x1="461.00" y1="200.60" x2="461.00" y2="202.00" stroke="#aaa" stroke-width="0.5"/>
<line x1="464.00" y1="200.60" x2="464.00" y2="202.00" stroke="#aaa" stroke-width="0.5"/>
<line x1="467.00" y1="200.60" x2="467.00" y2="202.00" stroke="#aaa" stroke-width="0.5"/>
<g transform="translate(338.20 97.00) rotate(0)">
<ellipse cx="-0.00" cy="0.00" rx="15.40" ry="9.50" fill="#fbfbfb" stroke="#666666" stroke-width="0.5"/>
<ellipse cx="-0.23" cy="0.00" rx="13.67" ry="8.43" fill="#fbfbfb" stroke="#666666" stroke-width="0.5"/>
<ellipse cx="-0.45" cy="0.00" rx="11.94" ry="7.36" fill="#fbfbfb" stroke="#666666" stroke-width="0.5"/>
<ellipse cx="-0.67" cy="0.00" rx="10.20" ry="6.29" fill="#fbfbfb" stroke="#666666" stroke-width="0.5"/>
<ellipse cx="-0.90" cy="0.00" rx="8.47" ry="5.23" fill="#7d7d7d" stroke="#2a2a2a" stroke-width="0.5"/>
<ellipse cx="-1.07" cy="0.00" rx="7.15" ry="4.41" fill="#6a6a6a" stroke="#2a2a2a" stroke-width="0.5"/>
<ellipse cx="-1.24" cy="0.00" rx="5.82" ry="3.59" fill="#575757" stroke="#2a2a2a" stroke-width="0.5"/>
<ellipse cx="-1.42" cy="0.00" rx="4.50" ry="2.77" fill="#444444" stroke="#2a2a2a" stroke-width="0.5"/>
<ellipse cx="-1.59" cy="0.00" rx="3.17" ry="1.96" fill="#313131" stroke="#2a2a2a" stroke-width="0.5"/>
<ellipse cx="-1.76" cy="0.00" rx="1.85" ry="1.14" fill="#1e1e1e" stroke="#2a2a2a" stroke-width="0.5"/>
<ellipse cx="-1.80" cy="0.00" rx="1.3" ry="0.9" fill="#fff" opacity="0.9"/>
</g>
<g transform="translate(423.75 96.80) rotate(-22)">
<ellipse cx="-0.00" cy="0.00" rx="14.60" ry="10.00" fill="#e0e0e0" stroke="#6a6a6a" stroke-width="0.5"/>
<ellipse cx="-0.15" cy="0.06" rx="13.49" ry="9.24" fill="#cfcfcf" stroke="#6a6a6a" stroke-width="0.5"/>
<ellipse cx="-0.30" cy="0.12" rx="12.38" ry="8.48" fill="#e0e0e0" stroke="#6a6a6a" stroke-width="0.5"/>
<ellipse cx="-0.46" cy="0.18" rx="11.27" ry="7.72" fill="#cfcfcf" stroke="#6a6a6a" stroke-width="0.5"/>
<ellipse cx="-0.61" cy="0.24" rx="10.16" ry="6.96" fill="#e0e0e0" stroke="#6a6a6a" stroke-width="0.5"/>
<ellipse cx="-0.76" cy="0.30" rx="9.05" ry="6.20" fill="#787878" stroke="#2a2a2a" stroke-width="0.5"/>
<ellipse cx="-0.96" cy="0.38" rx="7.59" ry="5.20" fill="#666666" stroke="#2a2a2a" stroke-width="0.5"/>
<ellipse cx="-1.16" cy="0.46" rx="6.13" ry="4.20" fill="#545454" stroke="#2a2a2a" stroke-width="0.5"/>
<ellipse cx="-1.36" cy="0.54" rx="4.67" ry="3.20" fill="#424242" stroke="#2a2a2a" stroke-width="0.5"/>
<ellipse cx="-1.56" cy="0.62" rx="3.21" ry="2.20" fill="#303030" stroke="#2a2a2a" stroke-width="0.5"/>
<ellipse cx="-1.76" cy="0.70" rx="1.75" ry="1.20" fill="#1e1e1e" stroke="#2a2a2a" stroke-width="0.5"/>
<ellipse cx="-1.80" cy="0.72" rx="1.3" ry="0.9" fill="#fff" opacity="0.9"/>
</g>
<g transform="translate(337.00 182.60) rotate(0)">
<ellipse cx="-0.00" cy="-0.00" rx="17.50" ry="10.40" fill="#fbfbfb" stroke="#666666" stroke-width="0.5"/>
<ellipse cx="-0.28" cy="-0.06" rx="15.75" ry="9.36" fill="#fbfbfb" stroke="#666666" stroke-width="0.5"/>
<ellipse cx="-0.56" cy="-0.12" rx="14.00" ry="8.32" fill="#fbfbfb" stroke="#666666" stroke-width="0.5"/>
<ellipse cx="-0.84" cy="-0.18" rx="12.25" ry="7.28" fill="#fbfbfb" stroke="#666666" stroke-width="0.5"/>
<ellipse cx="-1.12" cy="-0.24" rx="10.50" ry="6.24" fill="#fbfbfb" stroke="#666666" stroke-width="0.5"/>
<ellipse cx="-1.40" cy="-0.30" rx="8.75" ry="5.20" fill="#7d7d7d" stroke="#2a2a2a" stroke-width="0.5"/>
<ellipse cx="-1.61" cy="-0.35" rx="7.42" ry="4.41" fill="#6a6a6a" stroke="#2a2a2a" stroke-width="0.5"/>
<ellipse cx="-1.83" cy="-0.39" rx="6.09" ry="3.62" fill="#575757" stroke="#2a2a2a" stroke-width="0.5"/>
<ellipse cx="-2.04" cy="-0.44" rx="4.76" ry="2.83" fill="#444444" stroke="#2a2a2a" stroke-width="0.5"/>
<ellipse cx="-2.25" cy="-0.48" rx="3.43" ry="2.04" fill="#313131" stroke="#2a2a2a" stroke-width="0.5"/>
<ellipse cx="-2.46" cy="-0.53" rx="2.10" ry="1.25" fill="#1e1e1e" stroke="#2a2a2a" stroke-width="0.5"/>
<ellipse cx="-2.52" cy="-0.54" rx="1.3" ry="0.9" fill="#fff" opacity="0.9"/>
</g>
<g transform="translate(422.60 182.80) rotate(-30)">
<ellipse cx="-0.00" cy="-0.00" rx="14.20" ry="11.40" fill="#fbfbfb" stroke="#666666" stroke-width="0.5"/>
<ellipse cx="-0.17" cy="-0.27" rx="12.60" ry="10.12" fill="#fbfbfb" stroke="#666666" stroke-width="0.5"/>
<ellipse cx="-0.34" cy="-0.54" rx="11.00" ry="8.84" fill="#fbfbfb" stroke="#666666" stroke-width="0.5"/>
<ellipse cx="-0.51" cy="-0.81" rx="9.41" ry="7.55" fill="#fbfbfb" stroke="#666666" stroke-width="0.5"/>
<ellipse cx="-0.67" cy="-1.08" rx="7.81" ry="6.27" fill="#7d7d7d" stroke="#2a2a2a" stroke-width="0.5"/>
<ellipse cx="-0.80" cy="-1.29" rx="6.59" ry="5.29" fill="#6a6a6a" stroke="#2a2a2a" stroke-width="0.5"/>
<ellipse cx="-0.93" cy="-1.49" rx="5.37" ry="4.31" fill="#575757" stroke="#2a2a2a" stroke-width="0.5"/>
<ellipse cx="-1.06" cy="-1.70" rx="4.15" ry="3.33" fill="#444444" stroke="#2a2a2a" stroke-width="0.5"/>
<ellipse cx="-1.19" cy="-1.91" rx="2.93" ry="2.35" fill="#313131" stroke="#2a2a2a" stroke-width="0.5"/>
<ellipse cx="-1.32" cy="-2.11" rx="1.70" ry="1.37" fill="#1e1e1e" stroke="#2a2a2a" stroke-width="0.5"/>
<ellipse cx="-1.35" cy="-2.16" rx="1.3" ry="0.9" fill="#fff" opacity="0.9"/>
</g>
<path d="M358.5,68 C360,66 365,65 370,65 C374,65.5 374.5,68 372.5,71 C370,74 366,76.5 361,76 C358,75.5 357.5,71 358.5,68 Z" fill="none" stroke="#3c3c3c" stroke-width="0.85" opacity="1"/>
<path d="M443,60 C445,58 452,57 457,57 C460,57 462.5,58 462.5,61 C462.5,64 460,67.5 455,70.5 C452,71 449,70.5 448,70.5 C446.5,72 447,75 447,78 C446.5,80 445.5,82 445,83 M443,60 C443.5,64 443.5,68 442.3,72 C442,76 442,80 442,83" fill="none" stroke="#3c3c3c" stroke-width="0.85" opacity="1"/>
<ellipse cx="455" cy="63.5" rx="6" ry="4.2" fill="none" stroke="#3c3c3c" stroke-width="0.85"/>
<ellipse cx="455" cy="63.5" rx="3.8" ry="2.4" fill="none" stroke="#3c3c3c" stroke-width="0.85"/>
<path d="M438,77 C436,78.5 433.5,79.5 433.5,80.5 C434,81.5 436.5,81.5 438.5,82" fill="none" stroke="#5a5a5a" stroke-width="0.85" opacity="1"/>
<path d="M340,163 C342,160.5 346,158 350,156.5 C353,156 356,156.5 358.5,159.5 C358,162 354,164.5 350,165.5 C346,165.5 342,165 340,163 Z" fill="none" stroke="#3c3c3c" stroke-width="0.85" opacity="1"/>
<ellipse cx="352" cy="161" rx="2.6" ry="1.6" fill="none" stroke="#5a5a5a" stroke-width="0.85"/>
<path d="M441,158 C445,154 450,150 455,145 M442,162 C446,158 451,154 456,150 M443,152 C446,148 449,146 452,144 M444,147 C447,144 449,143 451,142 M441,165 C444,161 447,158 450,156" fill="none" stroke="#777" stroke-width="0.7" opacity="1"/>
<path d="M442.5,170 C444,175 443,180 443.5,186 C444,190 446,193 447,197 M445,172 C447,176 446,182 447,187" fill="none" stroke="#777" stroke-width="0.7" opacity="1"/>
<path d="M432,172 C436,175 437,180 435,185 C432,189 427,191 420,192" fill="none" stroke="#777" stroke-width="0.6" opacity="1"/>
<line x1="355.80" y1="37.30" x2="355.80" y2="117.30" stroke="#000" stroke-width="1.7"/>
<line x1="440.00" y1="37.30" x2="440.00" y2="117.30" stroke="#000" stroke-width="1.7"/>
<line x1="317.20" y1="84.50" x2="482.00" y2="84.50" stroke="#000" stroke-width="1.7"/>
<line x1="355.60" y1="121.50" x2="355.60" y2="200.30" stroke="#000" stroke-width="1.7"/>
<line x1="439.00" y1="121.50" x2="439.00" y2="200.30" stroke="#000" stroke-width="1.7"/>
<line x1="317.20" y1="169.00" x2="482.00" y2="169.00" stroke="#000" stroke-width="1.7"/>
<text x="320.30" y="44.90" font-size="9.2" text-anchor="start" fill="#111">0.99</text>
<text x="392.50" y="44.90" font-size="9.2" text-anchor="end" fill="#111">4.07</text>
<text x="320.30" y="114.90" font-size="9.2" text-anchor="start" fill="#111">94.5</text>
<text x="393.30" y="114.90" font-size="9.2" text-anchor="end" fill="#111">0.38</text>
<text x="404.30" y="44.90" font-size="9.2" text-anchor="start" fill="#111">1.78</text>
<text x="477.30" y="44.90" font-size="9.2" text-anchor="end" fill="#111">9.5</text>
<text x="404.30" y="114.90" font-size="9.2" text-anchor="start" fill="#111">88</text>
<text x="477.30" y="114.90" font-size="9.2" text-anchor="end" fill="#111">0.59</text>
<text x="319.80" y="129.50" font-size="9.2" text-anchor="start" fill="#111">3.5</text>
<text x="392.50" y="129.50" font-size="9.2" text-anchor="end" fill="#111">0.83</text>
<text x="319.80" y="199.50" font-size="9.2" text-anchor="start" fill="#111">94.9</text>
<text x="388.20" y="199.50" font-size="9.2" text-anchor="end" fill="#111">0.68</text>
<text x="404.30" y="129.50" font-size="9.2" text-anchor="start" fill="#111">1.21</text>
<text x="477.30" y="129.50" font-size="9.2" text-anchor="end" fill="#111">2.12</text>
<text x="404.30" y="199.50" font-size="9.2" text-anchor="start" fill="#111">94.8</text>
<text x="473.90" y="199.50" font-size="9.2" text-anchor="end" fill="#111">1.88</text>
<text x="314.80" y="46.30" font-size="6.3" text-anchor="end" fill="#111">10<tspan dy="-2" font-size="4.6">5</tspan></text>
<text x="314.80" y="62.70" font-size="6.3" text-anchor="end" fill="#111">10<tspan dy="-2" font-size="4.6">4</tspan></text>
<text x="314.80" y="79.90" font-size="6.3" text-anchor="end" fill="#111">10<tspan dy="-2" font-size="4.6">3</tspan></text>
<text x="314.80" y="98.90" font-size="6.3" text-anchor="end" fill="#111">10<tspan dy="-2" font-size="4.6">2</tspan></text>
<text x="313.90" y="108.70" font-size="6.3" text-anchor="end" fill="#111">0</text>
<text x="314.80" y="130.30" font-size="6.3" text-anchor="end" fill="#111">10<tspan dy="-2" font-size="4.6">5</tspan></text>
<text x="314.80" y="146.70" font-size="6.3" text-anchor="end" fill="#111">10<tspan dy="-2" font-size="4.6">4</tspan></text>
<text x="314.80" y="163.90" font-size="6.3" text-anchor="end" fill="#111">10<tspan dy="-2" font-size="4.6">3</tspan></text>
<text x="314.80" y="182.90" font-size="6.3" text-anchor="end" fill="#111">10<tspan dy="-2" font-size="4.6">2</tspan></text>
<text x="313.90" y="192.70" font-size="6.3" text-anchor="end" fill="#111">0</text>
<text x="334.60" y="211.40" font-size="6.3" text-anchor="middle" fill="#111">0</text>
<text x="354.60" y="211.40" font-size="6.3" text-anchor="middle" fill="#111">10<tspan dy="-2" font-size="4.6">3</tspan></text>
<text x="372.50" y="211.40" font-size="6.3" text-anchor="middle" fill="#111">10<tspan dy="-2" font-size="4.6">4</tspan></text>
<text x="389.20" y="211.40" font-size="6.3" text-anchor="middle" fill="#111">10<tspan dy="-2" font-size="4.6">5</tspan></text>
<text x="418.60" y="211.40" font-size="6.3" text-anchor="middle" fill="#111">0</text>
<text x="438.60" y="211.40" font-size="6.3" text-anchor="middle" fill="#111">10<tspan dy="-2" font-size="4.6">3</tspan></text>
<text x="456.50" y="211.40" font-size="6.3" text-anchor="middle" fill="#111">10<tspan dy="-2" font-size="4.6">4</tspan></text>
<text x="473.20" y="211.40" font-size="6.3" text-anchor="middle" fill="#111">10<tspan dy="-2" font-size="4.6">5</tspan></text>
<line x1="297.80" y1="169.70" x2="297.80" y2="50.00" stroke="#000" stroke-width="1.3"/>
<polygon points="297.8,44.6 294.8,51.2 300.8,51.2" fill="#000"/>
<text x="302.40" y="189.60" font-size="10" text-anchor="middle" fill="#111" transform="rotate(-90 302.40 189.60)" textLength="18.6" lengthAdjust="spacingAndGlyphs">DAPI</text>
<text x="317.80" y="223.80" font-size="9.2" text-anchor="start" fill="#111">Annexin-V</text>
<line x1="372.50" y1="221.30" x2="474.50" y2="221.30" stroke="#000" stroke-width="1.3"/>
<polygon points="480.5,221.3 473.5,218.3 473.5,224.3" fill="#000"/>
<text x="488.20" y="84.40" font-size="12" text-anchor="start" fill="#111">Ctrl</text>
<text x="488.20" y="167.80" font-size="12" text-anchor="start" fill="#111">CM</text>
<line x1="37.50" y1="281.30" x2="37.50" y2="372.70" stroke="#2a2a2a" stroke-width="1.3"/>
<line x1="34.10" y1="372.10" x2="37.50" y2="372.10" stroke="#222" stroke-width="1"/>
<text x="31.00" y="375.00" font-size="8.2" text-anchor="end" fill="#111">0</text>
<line x1="34.10" y1="350.20" x2="37.50" y2="350.20" stroke="#222" stroke-width="1"/>
<text x="31.00" y="353.10" font-size="8.2" text-anchor="end" fill="#111">20</text>
<line x1="34.10" y1="328.30" x2="37.50" y2="328.30" stroke="#222" stroke-width="1"/>
<text x="31.00" y="331.20" font-size="8.2" text-anchor="end" fill="#111">40</text>
<line x1="34.10" y1="306.40" x2="37.50" y2="306.40" stroke="#222" stroke-width="1"/>
<text x="31.00" y="309.30" font-size="8.2" text-anchor="end" fill="#111">60</text>
<line x1="34.10" y1="284.50" x2="37.50" y2="284.50" stroke="#222" stroke-width="1"/>
<text x="31.00" y="287.40" font-size="8.2" text-anchor="end" fill="#111">80</text>
<line x1="37.50" y1="372.10" x2="169.00" y2="372.10" stroke="#222" stroke-width="1.2"/>
<line x1="59.70" y1="372.10" x2="59.70" y2="374.70" stroke="#222" stroke-width="1"/>
<text x="59.70" y="385.80" font-size="8.5" text-anchor="middle" fill="#111">G0</text>
<line x1="51.50" y1="305.31" x2="51.50" y2="316.80" stroke="#000" stroke-width="1"/>
<line x1="48.70" y1="305.31" x2="54.30" y2="305.31" stroke="#000" stroke-width="1.1"/>
<rect x="45.75" y="316.80" width="11.50" height="55.30" fill="#000" stroke="none" stroke-width="1"/>
<line x1="67.90" y1="325.45" x2="67.90" y2="332.68" stroke="#000" stroke-width="1"/>
<line x1="65.10" y1="325.45" x2="70.70" y2="325.45" stroke="#000" stroke-width="1.1"/>
<rect x="62.65" y="333.18" width="10.50" height="38.92" fill="#fff" stroke="#000" stroke-width="1.1"/>
<line x1="103.70" y1="372.10" x2="103.70" y2="374.70" stroke="#222" stroke-width="1"/>
<text x="103.70" y="385.80" font-size="8.5" text-anchor="middle" fill="#111">G1</text>
<line x1="95.50" y1="325.23" x2="95.50" y2="333.78" stroke="#000" stroke-width="1"/>
<line x1="92.70" y1="325.23" x2="98.30" y2="325.23" stroke="#000" stroke-width="1.1"/>
<rect x="89.75" y="333.78" width="11.50" height="38.32" fill="#000" stroke="none" stroke-width="1"/>
<line x1="111.90" y1="312.97" x2="111.90" y2="319.54" stroke="#000" stroke-width="1"/>
<line x1="109.10" y1="312.97" x2="114.70" y2="312.97" stroke="#000" stroke-width="1.1"/>
<rect x="106.65" y="320.04" width="10.50" height="52.06" fill="#fff" stroke="#000" stroke-width="1.1"/>
<line x1="147.70" y1="372.10" x2="147.70" y2="374.70" stroke="#222" stroke-width="1"/>
<text x="147.70" y="385.80" font-size="8.5" text-anchor="middle" fill="#111">S-G2/M</text>
<line x1="139.50" y1="352.94" x2="139.50" y2="356.33" stroke="#000" stroke-width="1"/>
<line x1="136.70" y1="352.94" x2="142.30" y2="352.94" stroke="#000" stroke-width="1.1"/>
<rect x="133.75" y="356.33" width="11.50" height="15.77" fill="#000" stroke="none" stroke-width="1"/>
<line x1="155.90" y1="352.39" x2="155.90" y2="354.91" stroke="#000" stroke-width="1"/>
<line x1="153.10" y1="352.39" x2="158.70" y2="352.39" stroke="#000" stroke-width="1.1"/>
<rect x="150.65" y="355.41" width="10.50" height="16.69" fill="#fff" stroke="#000" stroke-width="1.1"/>
<polyline points="51.50,298.74 51.50,296.55 67.90,296.55 67.90,321.51" fill="none" stroke="#000" stroke-width="1.1"/>
<text x="59.70" y="295.35" font-size="8.5" text-anchor="middle" font-weight="bold">*</text>
<polyline points="95.50,320.42 95.50,304.65 111.90,304.65 111.90,306.95" fill="none" stroke="#000" stroke-width="1.1"/>
<text x="103.70" y="303.45" font-size="8.5" text-anchor="middle" font-weight="bold">**</text>
<text x="104.50" y="275.00" font-size="10" text-anchor="middle" fill="#111">LSK</text>
<text x="16.60" y="326.30" font-size="9.2" text-anchor="middle" fill="#111" transform="rotate(-90 16.60 326.30)" textLength="58.0" lengthAdjust="spacingAndGlyphs">Frequency (%)</text>
<line x1="209.50" y1="281.40" x2="209.50" y2="372.80" stroke="#2a2a2a" stroke-width="1.3"/>
<line x1="206.10" y1="372.20" x2="209.50" y2="372.20" stroke="#222" stroke-width="1"/>
<text x="203.00" y="375.10" font-size="8.2" text-anchor="end" fill="#111">0</text>
<line x1="206.10" y1="350.30" x2="209.50" y2="350.30" stroke="#222" stroke-width="1"/>
<text x="203.00" y="353.20" font-size="8.2" text-anchor="end" fill="#111">20</text>
<line x1="206.10" y1="328.40" x2="209.50" y2="328.40" stroke="#222" stroke-width="1"/>
<text x="203.00" y="331.30" font-size="8.2" text-anchor="end" fill="#111">40</text>
<line x1="206.10" y1="306.50" x2="209.50" y2="306.50" stroke="#222" stroke-width="1"/>
<text x="203.00" y="309.40" font-size="8.2" text-anchor="end" fill="#111">60</text>
<line x1="206.10" y1="284.60" x2="209.50" y2="284.60" stroke="#222" stroke-width="1"/>
<text x="203.00" y="287.50" font-size="8.2" text-anchor="end" fill="#111">80</text>
<line x1="209.50" y1="372.20" x2="341.00" y2="372.20" stroke="#222" stroke-width="1.2"/>
<line x1="231.70" y1="372.20" x2="231.70" y2="374.80" stroke="#222" stroke-width="1"/>
<text x="231.70" y="385.80" font-size="8.5" text-anchor="middle" fill="#111">G0</text>
<line x1="223.50" y1="358.73" x2="223.50" y2="359.06" stroke="#000" stroke-width="1"/>
<line x1="220.70" y1="358.73" x2="226.30" y2="358.73" stroke="#000" stroke-width="1.1"/>
<rect x="217.75" y="359.06" width="11.50" height="13.14" fill="#000" stroke="none" stroke-width="1"/>
<line x1="239.90" y1="353.58" x2="239.90" y2="356.87" stroke="#000" stroke-width="1"/>
<line x1="237.10" y1="353.58" x2="242.70" y2="353.58" stroke="#000" stroke-width="1.1"/>
<rect x="234.65" y="357.37" width="10.50" height="14.83" fill="#fff" stroke="#000" stroke-width="1.1"/>
<line x1="275.70" y1="372.20" x2="275.70" y2="374.80" stroke="#222" stroke-width="1"/>
<text x="275.70" y="385.80" font-size="8.5" text-anchor="middle" fill="#111">G1</text>
<line x1="267.50" y1="295.55" x2="267.50" y2="302.12" stroke="#000" stroke-width="1"/>
<line x1="264.70" y1="295.55" x2="270.30" y2="295.55" stroke="#000" stroke-width="1.1"/>
<rect x="261.75" y="302.12" width="11.50" height="70.08" fill="#000" stroke="none" stroke-width="1"/>
<line x1="283.90" y1="292.26" x2="283.90" y2="295.55" stroke="#000" stroke-width="1"/>
<line x1="281.10" y1="292.26" x2="286.70" y2="292.26" stroke="#000" stroke-width="1.1"/>
<rect x="278.65" y="296.05" width="10.50" height="76.15" fill="#fff" stroke="#000" stroke-width="1.1"/>
<line x1="319.70" y1="372.20" x2="319.70" y2="374.80" stroke="#222" stroke-width="1"/>
<text x="319.70" y="385.80" font-size="8.5" text-anchor="middle" fill="#111">S-G2/M</text>
<line x1="311.50" y1="340.44" x2="311.50" y2="347.01" stroke="#000" stroke-width="1"/>
<line x1="308.70" y1="340.44" x2="314.30" y2="340.44" stroke="#000" stroke-width="1.1"/>
<rect x="305.75" y="347.01" width="11.50" height="25.19" fill="#000" stroke="none" stroke-width="1"/>
<line x1="327.90" y1="350.85" x2="327.90" y2="355.23" stroke="#000" stroke-width="1"/>
<line x1="325.10" y1="350.85" x2="330.70" y2="350.85" stroke="#000" stroke-width="1.1"/>
<rect x="322.65" y="355.73" width="10.50" height="16.47" fill="#fff" stroke="#000" stroke-width="1.1"/>
<polyline points="311.50,333.88 311.50,331.47 327.90,331.47 327.90,349.20" fill="none" stroke="#000" stroke-width="1.1"/>
<text x="319.70" y="330.27" font-size="8.5" text-anchor="middle" font-weight="bold">*</text>
<text x="276.50" y="275.00" font-size="10" text-anchor="middle" fill="#111">Pre-GM</text>
<text x="188.40" y="326.40" font-size="9.2" text-anchor="middle" fill="#111" transform="rotate(-90 188.40 326.40)" textLength="58.0" lengthAdjust="spacingAndGlyphs">Frequency (%)</text>
<line x1="380.80" y1="281.00" x2="380.80" y2="372.40" stroke="#2a2a2a" stroke-width="1.3"/>
<line x1="377.40" y1="371.80" x2="380.80" y2="371.80" stroke="#222" stroke-width="1"/>
<text x="374.30" y="374.70" font-size="8.2" text-anchor="end" fill="#111">0</text>
<line x1="377.40" y1="349.90" x2="380.80" y2="349.90" stroke="#222" stroke-width="1"/>
<text x="374.30" y="352.80" font-size="8.2" text-anchor="end" fill="#111">20</text>
<line x1="377.40" y1="328.00" x2="380.80" y2="328.00" stroke="#222" stroke-width="1"/>
<text x="374.30" y="330.90" font-size="8.2" text-anchor="end" fill="#111">40</text>
<line x1="377.40" y1="306.10" x2="380.80" y2="306.10" stroke="#222" stroke-width="1"/>
<text x="374.30" y="309.00" font-size="8.2" text-anchor="end" fill="#111">60</text>
<line x1="377.40" y1="284.20" x2="380.80" y2="284.20" stroke="#222" stroke-width="1"/>
<text x="374.30" y="287.10" font-size="8.2" text-anchor="end" fill="#111">80</text>
<line x1="380.80" y1="371.80" x2="513.00" y2="371.80" stroke="#222" stroke-width="1.2"/>
<line x1="403.00" y1="371.80" x2="403.00" y2="374.40" stroke="#222" stroke-width="1"/>
<text x="403.00" y="385.60" font-size="8.5" text-anchor="middle" fill="#111">G0</text>
<line x1="394.80" y1="366.54" x2="394.80" y2="368.08" stroke="#000" stroke-width="1"/>
<line x1="392.00" y1="366.54" x2="397.60" y2="366.54" stroke="#000" stroke-width="1.1"/>
<rect x="389.05" y="368.08" width="11.50" height="3.72" fill="#000" stroke="none" stroke-width="1"/>
<line x1="411.20" y1="363.92" x2="411.20" y2="364.79" stroke="#000" stroke-width="1"/>
<line x1="408.40" y1="363.92" x2="414.00" y2="363.92" stroke="#000" stroke-width="1.1"/>
<rect x="405.95" y="365.29" width="10.50" height="6.51" fill="#fff" stroke="#000" stroke-width="1.1"/>
<line x1="447.00" y1="371.80" x2="447.00" y2="374.40" stroke="#222" stroke-width="1"/>
<text x="447.00" y="385.60" font-size="8.5" text-anchor="middle" fill="#111">G1</text>
<line x1="438.80" y1="319.35" x2="438.80" y2="331.50" stroke="#000" stroke-width="1"/>
<line x1="436.00" y1="319.35" x2="441.60" y2="319.35" stroke="#000" stroke-width="1.1"/>
<rect x="433.05" y="331.50" width="11.50" height="40.30" fill="#000" stroke="none" stroke-width="1"/>
<line x1="455.20" y1="304.35" x2="455.20" y2="308.29" stroke="#000" stroke-width="1"/>
<line x1="452.40" y1="304.35" x2="458.00" y2="304.35" stroke="#000" stroke-width="1.1"/>
<rect x="449.95" y="308.79" width="10.50" height="63.01" fill="#fff" stroke="#000" stroke-width="1.1"/>
<line x1="491.00" y1="371.80" x2="491.00" y2="374.40" stroke="#222" stroke-width="1"/>
<text x="491.00" y="385.60" font-size="8.5" text-anchor="middle" fill="#111">S-G2/M</text>
<line x1="482.80" y1="293.40" x2="482.80" y2="306.32" stroke="#000" stroke-width="1"/>
<line x1="480.00" y1="293.40" x2="485.60" y2="293.40" stroke="#000" stroke-width="1.1"/>
<rect x="477.05" y="306.32" width="11.50" height="65.48" fill="#000" stroke="none" stroke-width="1"/>
<line x1="499.20" y1="330.96" x2="499.20" y2="334.35" stroke="#000" stroke-width="1"/>
<line x1="496.40" y1="330.96" x2="502.00" y2="330.96" stroke="#000" stroke-width="1.1"/>
<rect x="493.95" y="334.85" width="10.50" height="36.95" fill="#fff" stroke="#000" stroke-width="1.1"/>
<polyline points="394.80,359.65 394.80,356.47 411.20,356.47 411.20,359.65" fill="none" stroke="#000" stroke-width="1.1"/>
<text x="403.00" y="355.27" font-size="8.5" text-anchor="middle" font-weight="bold">***</text>
<polyline points="438.80,312.78 438.80,294.71 455.20,294.71 455.20,298.00" fill="none" stroke="#000" stroke-width="1.1"/>
<text x="447.00" y="293.51" font-size="8.5" text-anchor="middle" font-weight="bold">**</text>
<polyline points="482.80,288.25 482.80,284.31 499.20,284.31 499.20,324.50" fill="none" stroke="#000" stroke-width="1.1"/>
<text x="491.00" y="283.11" font-size="8.5" text-anchor="middle" font-weight="bold">***</text>
<text x="447.80" y="275.00" font-size="10" text-anchor="middle" fill="#111">GMP</text>
<text x="359.50" y="326.00" font-size="9.2" text-anchor="middle" fill="#111" transform="rotate(-90 359.50 326.00)" textLength="58.0" lengthAdjust="spacingAndGlyphs">Frequency (%)</text>
<line x1="37.50" y1="411.02" x2="37.50" y2="502.50" stroke="#2a2a2a" stroke-width="1.3"/>
<line x1="34.10" y1="501.90" x2="37.50" y2="501.90" stroke="#222" stroke-width="1"/>
<text x="31.00" y="504.80" font-size="8.2" text-anchor="end" fill="#111">0</text>
<line x1="34.10" y1="479.98" x2="37.50" y2="479.98" stroke="#222" stroke-width="1"/>
<text x="31.00" y="482.88" font-size="8.2" text-anchor="end" fill="#111">20</text>
<line x1="34.10" y1="458.06" x2="37.50" y2="458.06" stroke="#222" stroke-width="1"/>
<text x="31.00" y="460.96" font-size="8.2" text-anchor="end" fill="#111">40</text>
<line x1="34.10" y1="436.14" x2="37.50" y2="436.14" stroke="#222" stroke-width="1"/>
<text x="31.00" y="439.04" font-size="8.2" text-anchor="end" fill="#111">60</text>
<line x1="34.10" y1="414.22" x2="37.50" y2="414.22" stroke="#222" stroke-width="1"/>
<text x="31.00" y="417.12" font-size="8.2" text-anchor="end" fill="#111">80</text>
<line x1="37.50" y1="501.90" x2="169.00" y2="501.90" stroke="#222" stroke-width="1.2"/>
<line x1="59.70" y1="501.90" x2="59.70" y2="504.50" stroke="#222" stroke-width="1"/>
<text x="59.70" y="515.40" font-size="8.5" text-anchor="middle" fill="#111">G0</text>
<line x1="51.50" y1="468.25" x2="51.50" y2="475.60" stroke="#000" stroke-width="1"/>
<line x1="48.70" y1="468.25" x2="54.30" y2="468.25" stroke="#000" stroke-width="1.1"/>
<rect x="45.75" y="475.60" width="11.50" height="26.30" fill="#000" stroke="none" stroke-width="1"/>
<line x1="67.90" y1="479.65" x2="67.90" y2="483.93" stroke="#000" stroke-width="1"/>
<line x1="65.10" y1="479.65" x2="70.70" y2="479.65" stroke="#000" stroke-width="1.1"/>
<rect x="62.65" y="484.43" width="10.50" height="17.47" fill="#fff" stroke="#000" stroke-width="1.1"/>
<line x1="103.70" y1="501.90" x2="103.70" y2="504.50" stroke="#222" stroke-width="1"/>
<text x="103.70" y="515.40" font-size="8.5" text-anchor="middle" fill="#111">G1</text>
<line x1="95.50" y1="428.47" x2="95.50" y2="433.95" stroke="#000" stroke-width="1"/>
<line x1="92.70" y1="428.47" x2="98.30" y2="428.47" stroke="#000" stroke-width="1.1"/>
<rect x="89.75" y="433.95" width="11.50" height="67.95" fill="#000" stroke="none" stroke-width="1"/>
<line x1="111.90" y1="427.37" x2="111.90" y2="430.11" stroke="#000" stroke-width="1"/>
<line x1="109.10" y1="427.37" x2="114.70" y2="427.37" stroke="#000" stroke-width="1.1"/>
<rect x="106.65" y="430.61" width="10.50" height="71.29" fill="#fff" stroke="#000" stroke-width="1.1"/>
<line x1="147.70" y1="501.90" x2="147.70" y2="504.50" stroke="#222" stroke-width="1"/>
<text x="147.70" y="515.40" font-size="8.5" text-anchor="middle" fill="#111">S-G2/M</text>
<line x1="139.50" y1="484.69" x2="139.50" y2="487.21" stroke="#000" stroke-width="1"/>
<line x1="136.70" y1="484.69" x2="142.30" y2="484.69" stroke="#000" stroke-width="1.1"/>
<rect x="133.75" y="487.21" width="11.50" height="14.69" fill="#000" stroke="none" stroke-width="1"/>
<line x1="155.90" y1="481.95" x2="155.90" y2="482.72" stroke="#000" stroke-width="1"/>
<line x1="153.10" y1="481.95" x2="158.70" y2="481.95" stroke="#000" stroke-width="1.1"/>
<rect x="150.65" y="483.22" width="10.50" height="18.68" fill="#fff" stroke="#000" stroke-width="1.1"/>
<polyline points="51.50,467.38 51.50,461.02 67.90,461.02 67.90,473.84" fill="none" stroke="#000" stroke-width="1.1"/>
<text x="59.70" y="459.82" font-size="8.5" text-anchor="middle" font-weight="bold">*</text>
<polyline points="139.50,481.40 139.50,473.84 155.90,473.84 155.90,480.20" fill="none" stroke="#000" stroke-width="1.1"/>
<text x="147.70" y="472.64" font-size="8.5" text-anchor="middle" font-weight="bold">**</text>
<text x="104.50" y="404.60" font-size="10" text-anchor="middle" fill="#111">Pre-Meg/E</text>
<text x="16.60" y="456.06" font-size="9.2" text-anchor="middle" fill="#111" transform="rotate(-90 16.60 456.06)" textLength="58.0" lengthAdjust="spacingAndGlyphs">Frequency (%)</text>
<line x1="209.10" y1="411.02" x2="209.10" y2="502.50" stroke="#2a2a2a" stroke-width="1.3"/>
<line x1="205.70" y1="501.90" x2="209.10" y2="501.90" stroke="#222" stroke-width="1"/>
<text x="202.60" y="504.80" font-size="8.2" text-anchor="end" fill="#111">0</text>
<line x1="205.70" y1="472.67" x2="209.10" y2="472.67" stroke="#222" stroke-width="1"/>
<text x="202.60" y="475.57" font-size="8.2" text-anchor="end" fill="#111">20</text>
<line x1="205.70" y1="443.45" x2="209.10" y2="443.45" stroke="#222" stroke-width="1"/>
<text x="202.60" y="446.35" font-size="8.2" text-anchor="end" fill="#111">40</text>
<line x1="205.70" y1="414.22" x2="209.10" y2="414.22" stroke="#222" stroke-width="1"/>
<text x="202.60" y="417.12" font-size="8.2" text-anchor="end" fill="#111">60</text>
<line x1="209.10" y1="501.90" x2="343.00" y2="501.90" stroke="#222" stroke-width="1.2"/>
<line x1="231.30" y1="501.90" x2="231.30" y2="504.50" stroke="#222" stroke-width="1"/>
<text x="231.30" y="515.40" font-size="8.5" text-anchor="middle" fill="#111">G0</text>
<line x1="223.10" y1="496.05" x2="223.10" y2="498.25" stroke="#000" stroke-width="1"/>
<line x1="220.30" y1="496.05" x2="225.90" y2="496.05" stroke="#000" stroke-width="1.1"/>
<rect x="217.35" y="498.25" width="11.50" height="3.65" fill="#000" stroke="none" stroke-width="1"/>
<line x1="239.50" y1="497.52" x2="239.50" y2="499.27" stroke="#000" stroke-width="1"/>
<line x1="236.70" y1="497.52" x2="242.30" y2="497.52" stroke="#000" stroke-width="1.1"/>
<rect x="234.25" y="499.77" width="10.50" height="2.13" fill="#fff" stroke="#000" stroke-width="1.1"/>
<line x1="275.30" y1="501.90" x2="275.30" y2="504.50" stroke="#222" stroke-width="1"/>
<text x="275.30" y="515.40" font-size="8.5" text-anchor="middle" fill="#111">G1</text>
<line x1="267.10" y1="420.07" x2="267.10" y2="424.45" stroke="#000" stroke-width="1"/>
<line x1="264.30" y1="420.07" x2="269.90" y2="420.07" stroke="#000" stroke-width="1.1"/>
<rect x="261.35" y="424.45" width="11.50" height="77.45" fill="#000" stroke="none" stroke-width="1"/>
<line x1="283.50" y1="421.53" x2="283.50" y2="430.30" stroke="#000" stroke-width="1"/>
<line x1="280.70" y1="421.53" x2="286.30" y2="421.53" stroke="#000" stroke-width="1.1"/>
<rect x="278.25" y="430.80" width="10.50" height="71.10" fill="#fff" stroke="#000" stroke-width="1.1"/>
<line x1="319.30" y1="501.90" x2="319.30" y2="504.50" stroke="#222" stroke-width="1"/>
<text x="319.30" y="515.40" font-size="8.5" text-anchor="middle" fill="#111">S-G2/M</text>
<line x1="311.10" y1="431.76" x2="311.10" y2="436.87" stroke="#000" stroke-width="1"/>
<line x1="308.30" y1="431.76" x2="313.90" y2="431.76" stroke="#000" stroke-width="1.1"/>
<rect x="305.35" y="436.87" width="11.50" height="65.03" fill="#000" stroke="none" stroke-width="1"/>
<line x1="327.50" y1="422.26" x2="327.50" y2="430.30" stroke="#000" stroke-width="1"/>
<line x1="324.70" y1="422.26" x2="330.30" y2="422.26" stroke="#000" stroke-width="1.1"/>
<rect x="322.25" y="430.80" width="10.50" height="71.10" fill="#fff" stroke="#000" stroke-width="1.1"/>
<text x="275.40" y="404.60" font-size="10" text-anchor="middle" fill="#111">EP</text>
<text x="188.40" y="456.06" font-size="9.2" text-anchor="middle" fill="#111" transform="rotate(-90 188.40 456.06)" textLength="58.0" lengthAdjust="spacingAndGlyphs">Frequency (%)</text>
<rect x="378.30" y="412.90" width="10.00" height="8.20" fill="#000" stroke="#000" stroke-width="1"/>
<rect x="378.30" y="424.20" width="10.00" height="8.20" fill="#fff" stroke="#000" stroke-width="1.1"/>
<text x="391.30" y="419.80" font-size="8.3" text-anchor="start" fill="#111">Ctrl</text>
<text x="391.30" y="431.20" font-size="8.3" text-anchor="start" fill="#111">CM Preleuk</text>
<line x1="36.30" y1="556.80" x2="36.30" y2="650.60" stroke="#2a2a2a" stroke-width="1.3"/>
<line x1="32.90" y1="650.00" x2="36.30" y2="650.00" stroke="#222" stroke-width="1"/>
<text x="28.90" y="652.90" font-size="8.2" text-anchor="end" fill="#111">0</text>
<line x1="32.90" y1="620.00" x2="36.30" y2="620.00" stroke="#222" stroke-width="1"/>
<text x="28.90" y="622.90" font-size="8.2" text-anchor="end" fill="#111">5</text>
<line x1="32.90" y1="590.00" x2="36.30" y2="590.00" stroke="#222" stroke-width="1"/>
<text x="28.90" y="592.90" font-size="8.2" text-anchor="end" fill="#111">10</text>
<line x1="32.90" y1="560.00" x2="36.30" y2="560.00" stroke="#222" stroke-width="1"/>
<text x="28.90" y="562.90" font-size="8.2" text-anchor="end" fill="#111">15</text>
<line x1="36.30" y1="650.00" x2="243.80" y2="650.00" stroke="#222" stroke-width="1.2"/>
<line x1="56.90" y1="650.00" x2="56.90" y2="652.60" stroke="#222" stroke-width="1"/>
<text x="56.90" y="663.60" font-size="8.5" text-anchor="middle" fill="#111">LSK</text>
<line x1="49.10" y1="589.40" x2="49.10" y2="609.98" stroke="#000" stroke-width="1"/>
<line x1="46.30" y1="589.40" x2="51.90" y2="589.40" stroke="#000" stroke-width="1.1"/>
<rect x="43.60" y="609.98" width="11.00" height="40.02" fill="#000" stroke="none" stroke-width="1"/>
<line x1="64.70" y1="632.00" x2="64.70" y2="639.20" stroke="#000" stroke-width="1"/>
<line x1="61.90" y1="632.00" x2="67.50" y2="632.00" stroke="#000" stroke-width="1.1"/>
<rect x="59.70" y="639.70" width="10.00" height="10.30" fill="#fff" stroke="#000" stroke-width="1.1"/>
<line x1="98.50" y1="650.00" x2="98.50" y2="652.60" stroke="#222" stroke-width="1"/>
<text x="98.50" y="663.60" font-size="8.5" text-anchor="middle" fill="#111">Pre-GM</text>
<line x1="90.70" y1="597.20" x2="90.70" y2="609.98" stroke="#000" stroke-width="1"/>
<line x1="87.90" y1="597.20" x2="93.50" y2="597.20" stroke="#000" stroke-width="1.1"/>
<rect x="85.20" y="609.98" width="11.00" height="40.02" fill="#000" stroke="none" stroke-width="1"/>
<line x1="106.30" y1="611.00" x2="106.30" y2="621.98" stroke="#000" stroke-width="1"/>
<line x1="103.50" y1="611.00" x2="109.10" y2="611.00" stroke="#000" stroke-width="1.1"/>
<rect x="101.30" y="622.48" width="10.00" height="27.52" fill="#fff" stroke="#000" stroke-width="1.1"/>
<line x1="140.10" y1="650.00" x2="140.10" y2="652.60" stroke="#222" stroke-width="1"/>
<text x="140.10" y="663.60" font-size="8.5" text-anchor="middle" fill="#111">GMP</text>
<line x1="132.30" y1="633.80" x2="132.30" y2="639.20" stroke="#000" stroke-width="1"/>
<line x1="129.50" y1="633.80" x2="135.10" y2="633.80" stroke="#000" stroke-width="1.1"/>
<rect x="126.80" y="639.20" width="11.00" height="10.80" fill="#000" stroke="none" stroke-width="1"/>
<line x1="147.90" y1="639.80" x2="147.90" y2="642.80" stroke="#000" stroke-width="1"/>
<line x1="145.10" y1="639.80" x2="150.70" y2="639.80" stroke="#000" stroke-width="1.1"/>
<rect x="142.90" y="643.30" width="10.00" height="6.70" fill="#fff" stroke="#000" stroke-width="1.1"/>
<line x1="181.70" y1="650.00" x2="181.70" y2="652.60" stroke="#222" stroke-width="1"/>
<text x="181.70" y="663.60" font-size="8.5" text-anchor="middle" fill="#111">Pre-Meg/E</text>
<line x1="173.90" y1="576.80" x2="173.90" y2="592.40" stroke="#000" stroke-width="1"/>
<line x1="171.10" y1="576.80" x2="176.70" y2="576.80" stroke="#000" stroke-width="1.1"/>
<rect x="168.40" y="592.40" width="11.00" height="57.60" fill="#000" stroke="none" stroke-width="1"/>
<line x1="189.50" y1="619.40" x2="189.50" y2="627.20" stroke="#000" stroke-width="1"/>
<line x1="186.70" y1="619.40" x2="192.30" y2="619.40" stroke="#000" stroke-width="1.1"/>
<rect x="184.50" y="627.70" width="10.00" height="22.30" fill="#fff" stroke="#000" stroke-width="1.1"/>
<line x1="223.30" y1="650.00" x2="223.30" y2="652.60" stroke="#222" stroke-width="1"/>
<text x="223.30" y="663.60" font-size="8.5" text-anchor="middle" fill="#111">EPs</text>
<line x1="215.50" y1="602.00" x2="215.50" y2="620.18" stroke="#000" stroke-width="1"/>
<line x1="212.70" y1="602.00" x2="218.30" y2="602.00" stroke="#000" stroke-width="1.1"/>
<rect x="210.00" y="620.18" width="11.00" height="29.82" fill="#000" stroke="none" stroke-width="1"/>
<line x1="231.10" y1="635.60" x2="231.10" y2="641.00" stroke="#000" stroke-width="1"/>
<line x1="228.30" y1="635.60" x2="233.90" y2="635.60" stroke="#000" stroke-width="1.1"/>
<rect x="226.10" y="641.50" width="10.00" height="8.50" fill="#fff" stroke="#000" stroke-width="1.1"/>
<polyline points="49.10,585.80 49.10,581.00 64.70,581.00 64.70,626.00" fill="none" stroke="#000" stroke-width="1.1"/>
<text x="56.90" y="579.80" font-size="8.5" text-anchor="middle" font-weight="bold">*</text>
<polyline points="173.90,575.00 173.90,570.80 189.50,570.80 189.50,615.80" fill="none" stroke="#000" stroke-width="1.1"/>
<text x="181.70" y="569.60" font-size="8.5" text-anchor="middle" font-weight="bold">**</text>
<polyline points="215.50,599.00 215.50,594.80 231.10,594.80 231.10,633.20" fill="none" stroke="#000" stroke-width="1.1"/>
<text x="223.30" y="593.60" font-size="8.5" text-anchor="middle" font-weight="bold">*</text>
<text x="16.60" y="603.00" font-size="10" text-anchor="middle" fill="#111" transform="rotate(-90 16.60 603.00)" textLength="61.5" lengthAdjust="spacingAndGlyphs">Apoptosis (%)</text>
<rect x="260.80" y="558.90" width="10.00" height="8.20" fill="#000" stroke="#000" stroke-width="1"/>
<rect x="260.80" y="570.20" width="10.00" height="8.20" fill="#fff" stroke="#000" stroke-width="1.1"/>
<text x="273.80" y="565.80" font-size="8.3" text-anchor="start" fill="#111">Ctrl</text>
<text x="273.80" y="577.20" font-size="8.3" text-anchor="start" fill="#111">CM Preleuk</text>
<rect x="0.5" y="0.5" width="519" height="672" fill="none" stroke="#000" stroke-width="1.2"/>
</svg>
</body></html>
